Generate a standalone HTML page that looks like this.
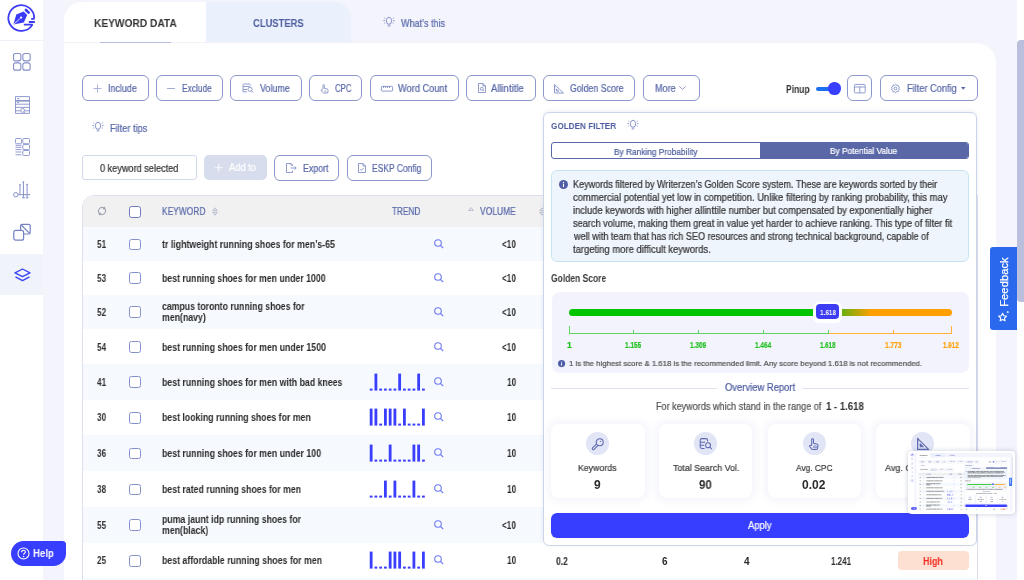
<!DOCTYPE html>
<html><head><meta charset="utf-8">
<style>
*{box-sizing:border-box;margin:0;padding:0}
html,body{width:1024px;height:580px;overflow:hidden;background:#f3f4fc;font-family:"Liberation Sans",sans-serif;color:#333}
.abs{position:absolute}
.tx{white-space:nowrap;line-height:12px;transform-origin:0 50%;will-change:transform}
.ic{position:absolute;overflow:visible}
.btn{position:absolute;height:25.5px;border:1px solid #8c98ca;border-radius:6px;background:#fff}
</style></head><body>
<div class="abs" style="left:0;top:0;width:43px;height:580px;background:#fff"></div>
<div class="abs" style="left:0;top:39.5px;width:43px;height:1px;background:#eef0f8"></div>
<div class="abs" style="left:0;top:254px;width:43px;height:41px;background:#f1f3fa"></div>
<svg class="ic" style="left:4px;top:2px" width="36" height="34" viewBox="0 0 36 34">
    <path d="M30.2 16.3 A12.9 12.9 0 1 0 28.4 22.6" fill="none" stroke="#3b3bf5" stroke-width="1.8"/>
    <path d="M27.2 16.8 H30.6 M24.8 20 H30.9 M19.8 22.7 H28.8" stroke="#3b3bf5" stroke-width="1.8"/>
    <path d="M9.4 22.6 L12.3 12.6 L19.6 9.4 L23.2 13.1 L19.8 20.4 Z" fill="#3b3bf5"/>
    <path d="M22.0 8.0 L24.6 10.6" stroke="#3b3bf5" stroke-width="2.7" stroke-linecap="round"/>
    <circle cx="17.1" cy="15.6" r="1.15" fill="#fff"/>
    <path d="M9.8 22.2 L16.4 16.3" stroke="#fff" stroke-width="0.8"/>
</svg>
<svg class="ic" style="left:13px;top:53px" width="18" height="18" viewBox="0 0 18 18" fill="none" stroke="#8590c8" stroke-width="1.1">
    <rect x="0.55" y="0.55" width="7.3" height="7.3" rx="2"/><rect x="9.85" y="0.55" width="7.3" height="7.3" rx="2"/>
    <rect x="0.55" y="9.85" width="7.3" height="7.3" rx="2"/><rect x="9.85" y="9.85" width="7.3" height="7.3" rx="2"/>
</svg>
<svg class="ic" style="left:14.5px;top:95.5px" width="16" height="18" viewBox="0 0 16 18" fill="none" stroke="#8590c8" stroke-width="0.9">
    <path d="M0.5 0.6 H14.5 V17.4 H0.5 Z"/>
    <path d="M0.5 4.8 H14.5" stroke-width="1.6"/><path d="M0.5 8.2 H14.5 M0.5 11.4 H14.5 M2 2.7 H4.5 M2 6.5 H4 M0.5 14.8 H5.5 M9.5 14.8 H14.5"/>
    <circle cx="7.6" cy="14.4" r="1.9"/><path d="M9 15.8 L10.2 17"/>
</svg>
<svg class="ic" style="left:14.5px;top:138px" width="15" height="18" viewBox="0 0 15 18" fill="none" stroke="#8590c8" stroke-width="0.9">
    <rect x="0.5" y="0.5" width="6" height="5.2" rx="1"/>
    <path d="M0.5 7.3 H6.5 M0.5 9.3 H6.5 M0.5 11.6 H6.5 M0.5 14 H6.5 M0.5 16.8 H6.5"/>
    <rect x="7.8" y="0.5" width="6.7" height="5.2" rx="1"/><rect x="7.8" y="6.6" width="6.7" height="5" rx="1"/><rect x="7.8" y="12.5" width="6.7" height="5" rx="1"/>
</svg>
<svg class="ic" style="left:13px;top:180px" width="18" height="19" viewBox="0 0 18 19" fill="none" stroke="#8590c8" stroke-width="1">
    <circle cx="2.8" cy="14.7" r="2.2"/><path d="M5 14.7 H17.3 M7 4 V14.7 M10.4 1.3 V17.8 M14.1 3.7 V17.8 M9 17.8 H11.8 M12.7 17.8 H15.5"/>
    <path d="M7 4.5 V5.6 M10.4 1.5 V2.6 M14.1 4 V5" stroke-width="1.5"/>
</svg>
<svg class="ic" style="left:13px;top:223px" width="18" height="18" viewBox="0 0 18 18" fill="none" stroke="#7481c2" stroke-width="1.2">
    <rect x="7.6" y="1.4" width="9.6" height="9.6" rx="1.6"/><path d="M8.2 2 L16.6 10.4"/><rect x="0.8" y="7.4" width="9.8" height="9.8" rx="2" fill="#fff"/>
</svg>
<svg class="ic" style="left:13.5px;top:268px" width="17" height="14" viewBox="0 0 17 14" fill="none" stroke="#3a44f0" stroke-width="1.4" stroke-linejoin="round">
    <path d="M8.5 1 L16 4.8 L8.5 8.6 L1 4.8 Z"/><path d="M1.5 8.8 L8.5 12.6 L15.5 8.8"/>
</svg>
<div class="abs" style="left:64px;top:43px;width:932px;height:600px;background:#fff;border-top-right-radius:20px"></div>
<div class="abs" style="left:64px;top:2px;width:142px;height:42px;background:#fff;border-top-left-radius:18px"></div>
<div class="abs" style="left:206px;top:2px;width:145px;height:41px;background:#eaf1fd;border-top-right-radius:16px"></div>
<div class="abs" style="left:64px;top:42px;width:287px;height:1px;background:#f0f2f9"></div>
<div class="abs" style="left:99.5px;top:42px;width:71px;height:1px;background:#b4bfe0"></div>
<div class="abs tx" style="left:93.60px;top:17.00px;font-size:11px;font-weight:bold;color:#333;transform:scaleX(0.9254);">KEYWORD DATA</div>
<div class="abs tx" style="left:253.30px;top:17.00px;font-size:11px;font-weight:bold;color:#4c5c9e;transform:scaleX(0.8534);">CLUSTERS</div>
<svg class="ic" style="left:382.5px;top:15.5px" width="12" height="11" viewBox="0 0 12 11" fill="none" stroke="#7683c2" stroke-width="0.9"><path d="M4.6 8.1 C3.9 7 3.4 6 3.4 4.6 C3.4 2.6 4.6 1.3 6 1.3 C7.4 1.3 8.6 2.6 8.6 4.6 C8.6 6 8.1 7 7.4 8.1 Z M4.7 9.9 H7.3" /><path d="M1.3 1.9 L2.3 2.5 M10.7 1.9 L9.7 2.5 M0.4 4.6 H1.9 M10.1 4.6 H11.6 M1.3 7.3 L2.3 6.7 M10.7 7.3 L9.7 6.7" stroke-width="0.8"/></svg>
<div class="abs tx" style="left:401.00px;top:18.00px;font-size:10px;font-weight:normal;color:#5868a8;transform:scaleX(0.9031);-webkit-text-stroke:0.22px #5868a8;">What’s this</div>
<div class="btn" style="left:81.9px;top:75.2px;width:66.79999999999998px;height:25.39999999999999px"></div>
<div class="btn" style="left:156.1px;top:75.2px;width:66.9px;height:25.39999999999999px"></div>
<div class="btn" style="left:230.2px;top:75.2px;width:71.40000000000003px;height:25.39999999999999px"></div>
<div class="btn" style="left:308.6px;top:75.2px;width:53.89999999999998px;height:25.39999999999999px"></div>
<div class="btn" style="left:370px;top:75.2px;width:88.60000000000002px;height:25.39999999999999px"></div>
<div class="btn" style="left:466.2px;top:75.2px;width:69.59999999999997px;height:25.39999999999999px"></div>
<div class="btn" style="left:543.1px;top:75.2px;width:92.39999999999998px;height:25.39999999999999px"></div>
<div class="btn" style="left:643.1px;top:75.2px;width:57.39999999999998px;height:25.39999999999999px"></div>
<div class="btn" style="left:847.4px;top:75.2px;width:25.0px;height:25.39999999999999px"></div>
<div class="btn" style="left:879.6px;top:75.2px;width:98.10000000000002px;height:25.39999999999999px"></div>
<svg class="ic" style="left:93px;top:84px" width="9" height="9" viewBox="0 0 9 9" stroke="#a3acd8" stroke-width="0.9"><path d="M4.5 0.5 V8.5 M0.5 4.5 H8.5"/></svg>
<div class="abs tx" style="left:107.80px;top:83.00px;font-size:10px;font-weight:normal;color:#5868a8;transform:scaleX(0.8934);-webkit-text-stroke:0.22px #5868a8;">Include</div>
<div class="abs" style="left:166.7px;top:87.9px;width:8px;height:1px;background:#a3acd8"></div>
<div class="abs tx" style="left:181.60px;top:83.00px;font-size:10px;font-weight:normal;color:#5868a8;transform:scaleX(0.8358);-webkit-text-stroke:0.22px #5868a8;">Exclude</div>
<svg class="ic" style="left:241.5px;top:83px" width="12" height="10" viewBox="0 0 12 10" fill="none" stroke="#7683c2" stroke-width="0.8"><path d="M1 3.5 H7.5 M1 6.5 H5 M2 1 H7 C8 1 8.3 1.6 8.3 2.6 M1 3.5 V8.8 H5 M1 3.5 C1 2 1.2 1 2 1"/><circle cx="8" cy="6.3" r="2.1"/><path d="M9.5 7.8 L11.3 9.5"/></svg>
<div class="abs tx" style="left:259.80px;top:83.00px;font-size:10px;font-weight:normal;color:#5868a8;transform:scaleX(0.8937);-webkit-text-stroke:0.22px #5868a8;">Volume</div>
<svg class="ic" style="left:320px;top:83.5px" width="9" height="9.5" viewBox="0 0 9 9.5" fill="none" stroke="#7683c2" stroke-width="0.8"><path d="M3 5 V1.2 C3 0.4 4.3 0.4 4.3 1.2 V4.3 L7 5 C8 5.3 8.3 5.8 8.1 6.8 L7.6 9 H3.5 L1 6.6 C0.5 6 1.4 5.2 2.3 5.8 L3 6.4"/><path d="M4.3 7.2 H6.2" /></svg>
<div class="abs tx" style="left:334.80px;top:83.00px;font-size:10px;font-weight:normal;color:#5868a8;transform:scaleX(0.7754);-webkit-text-stroke:0.22px #5868a8;">CPC</div>
<svg class="ic" style="left:381px;top:85.5px" width="12" height="5.5" viewBox="0 0 12 5.5" fill="none" stroke="#7683c2" stroke-width="0.8"><rect x="0.4" y="0.4" width="11.2" height="4.7" rx="0.8"/><path d="M2.5 0.4 V2 M4.5 0.4 V2 M6.5 0.4 V2 M8.5 0.4 V2"/></svg>
<div class="abs tx" style="left:398.40px;top:83.00px;font-size:10px;font-weight:normal;color:#5868a8;transform:scaleX(0.9233);-webkit-text-stroke:0.22px #5868a8;">Word Count</div>
<svg class="ic" style="left:477.5px;top:83px" width="8" height="10" viewBox="0 0 8 10" fill="none" stroke="#7683c2" stroke-width="0.8"><path d="M0.5 0.5 H5 L7.5 3 V9.5 H0.5 Z M5 0.5 V3 H7.5"/><circle cx="3.8" cy="5.8" r="1.5"/><path d="M4.8 6.8 L5.8 8"/></svg>
<div class="abs tx" style="left:491.00px;top:83.00px;font-size:10px;font-weight:normal;color:#5868a8;transform:scaleX(0.9457);-webkit-text-stroke:0.22px #5868a8;">Allintitle</div>
<svg class="ic" style="left:553.7px;top:83.5px" width="10" height="9.5" viewBox="0 0 10 9.5" fill="none" stroke="#7683c2" stroke-width="0.8"><path d="M0.5 0.5 V9 H9.5 Z M2.6 5 V7.2 H4.8 Z M0.5 3 H1.6 M0.5 5.5 H1.4"/></svg>
<div class="abs tx" style="left:570.20px;top:83.00px;font-size:10px;font-weight:normal;color:#5868a8;transform:scaleX(0.8768);-webkit-text-stroke:0.22px #5868a8;">Golden Score</div>
<div class="abs tx" style="left:654.70px;top:83.00px;font-size:10px;font-weight:normal;color:#5868a8;transform:scaleX(0.9043);-webkit-text-stroke:0.22px #5868a8;">More</div>
<svg class="ic" style="left:679px;top:86px" width="7" height="4" viewBox="0 0 7 4" fill="none" stroke="#7683c2" stroke-width="0.8"><path d="M0.4 0.5 L3.5 3.3 L6.6 0.5"/></svg>
<div class="abs tx" style="left:785.50px;top:84.00px;font-size:10px;font-weight:bold;color:#333;transform:scaleX(0.8458);">Pinup</div>
<div class="abs" style="left:816px;top:87.3px;width:16px;height:3.4px;background:#1b6ef0;border-radius:2px"></div>
<div class="abs" style="left:828.4px;top:82.3px;width:12.6px;height:12.6px;background:#383eff;border-radius:50%"></div>
<svg class="ic" style="left:853.8px;top:83.7px" width="11.6" height="9.3" viewBox="0 0 11.6 9.3" fill="none" stroke="#7683c2" stroke-width="0.8"><rect x="0.4" y="0.4" width="10.8" height="8.5" rx="1"/><path d="M0.4 3 H11.2 M5.8 3 V8.9"/></svg>
<svg class="ic" style="left:891px;top:84px" width="9" height="9" viewBox="0 0 9 9" fill="none" stroke="#7683c2" stroke-width="0.8"><circle cx="4.5" cy="4.5" r="1.4"/><path d="M4.5 0.4 L5.5 1.3 L6.9 1 L7.2 2.4 L8.4 3.2 L7.9 4.5 L8.4 5.8 L7.2 6.6 L6.9 8 L5.5 7.7 L4.5 8.6 L3.5 7.7 L2.1 8 L1.8 6.6 L0.6 5.8 L1.1 4.5 L0.6 3.2 L1.8 2.4 L2.1 1 L3.5 1.3 Z"/></svg>
<div class="abs tx" style="left:906.60px;top:83.00px;font-size:10px;font-weight:normal;color:#5868a8;transform:scaleX(0.9223);-webkit-text-stroke:0.22px #5868a8;">Filter Config</div>
<svg class="ic" style="left:961.2px;top:87.2px" width="4.5" height="3" viewBox="0 0 4.5 3"><path d="M0 0 H4.5 L2.25 2.8 Z" fill="#5868a8"/></svg>
<svg class="ic" style="left:92.0px;top:121.0px" width="12" height="11" viewBox="0 0 12 11" fill="none" stroke="#7683c2" stroke-width="0.9"><path d="M4.6 8.1 C3.9 7 3.4 6 3.4 4.6 C3.4 2.6 4.6 1.3 6 1.3 C7.4 1.3 8.6 2.6 8.6 4.6 C8.6 6 8.1 7 7.4 8.1 Z M4.7 9.9 H7.3" /><path d="M1.3 1.9 L2.3 2.5 M10.7 1.9 L9.7 2.5 M0.4 4.6 H1.9 M10.1 4.6 H11.6 M1.3 7.3 L2.3 6.7 M10.7 7.3 L9.7 6.7" stroke-width="0.8"/></svg>
<div class="abs tx" style="left:110.20px;top:123.00px;font-size:10px;font-weight:normal;color:#5868a8;transform:scaleX(0.9196);-webkit-text-stroke:0.22px #5868a8;">Filter tips</div>
<div class="abs" style="left:81.9px;top:155.3px;width:115px;height:25px;border:1px solid #d3d9ec;border-radius:3px;background:#fff"></div>
<div class="abs tx" style="left:100.30px;top:163.00px;font-size:10px;font-weight:normal;color:#333;transform:scaleX(0.9149);-webkit-text-stroke:0.22px #333;">0 keyword selected</div>
<div class="abs" style="left:204.3px;top:155.1px;width:62.9px;height:25.4px;background:#d7dded;border-radius:5px"></div>
<svg class="ic" style="left:215.2px;top:163.8px" width="7.5" height="7.5" viewBox="0 0 7.5 7.5" stroke="#fff" stroke-width="0.9"><path d="M3.75 0 V7.5 M0 3.75 H7.5"/></svg>
<div class="abs tx" style="left:229.00px;top:162.00px;font-size:10px;font-weight:normal;color:#fff;transform:scaleX(0.9336);-webkit-text-stroke:0.22px #fff;">Add to</div>
<div class="btn" style="left:274.2px;top:155px;width:65.19999999999999px;height:25.69999999999999px"></div>
<div class="btn" style="left:347.2px;top:155px;width:84.69999999999999px;height:25.69999999999999px"></div>
<svg class="ic" style="left:285.8px;top:163px" width="11" height="10" viewBox="0 0 11 10" fill="none" stroke="#7683c2" stroke-width="0.8"><path d="M6.5 3 V2 L5 0.5 H0.5 V9.5 H6.5 V7.5 M4.5 5 H10.2 M8.5 3.3 L10.2 5 L8.5 6.7 M5 0.5 V2 H6.5"/></svg>
<div class="abs tx" style="left:302.70px;top:163.00px;font-size:10px;font-weight:normal;color:#5868a8;transform:scaleX(0.8825);-webkit-text-stroke:0.22px #5868a8;">Export</div>
<svg class="ic" style="left:358px;top:162.8px" width="8" height="10" viewBox="0 0 8 10" fill="none" stroke="#7683c2" stroke-width="0.8"><path d="M0.5 0.5 H5 L7.5 3 V9.5 H0.5 Z M5 0.5 V3 H7.5 M2.2 6.2 L3.4 7.4 L5.6 5"/></svg>
<div class="abs tx" style="left:371.60px;top:163.00px;font-size:10px;font-weight:normal;color:#5868a8;transform:scaleX(0.8494);-webkit-text-stroke:0.22px #5868a8;">ESKP Config</div>
<div class="abs" style="left:82px;top:195px;width:895.5px;height:400px;border:1px solid #dde1ef;border-radius:12px 0 0 0;background:#fff"></div>
<div class="abs" style="left:83px;top:196px;width:893.5px;height:31px;background:#f1f1f2;border-radius:11px 0 0 0"></div>
<svg class="ic" style="left:97px;top:206.2px" width="10" height="10" viewBox="0 0 10 10" fill="none" stroke="#8d92a6" stroke-width="1"><path d="M8.12 3.2 A3.6 3.6 0 0 1 3.2 8.12"/><path d="M1.88 6.8 A3.6 3.6 0 0 1 6.8 1.88"/><path d="M8.3 2.7 L7.5 0.7 L6.1 3.0 Z M1.7 7.3 L2.5 9.3 L3.9 7.0 Z" fill="#8d92a6" stroke-width="0.4"/></svg>
<div class="abs" style="left:129.2px;top:206px;width:11.8px;height:11.8px;border:1px solid #6f7cbf;border-radius:2.5px;background:#fff"></div>
<div class="abs tx" style="left:162.00px;top:206.00px;font-size:10px;font-weight:normal;color:#5868a8;transform:scaleX(0.8397);-webkit-text-stroke:0.22px #5868a8;">KEYWORD</div>
<svg class="ic" style="left:212.2px;top:207px" width="6" height="9" viewBox="0 0 6 9" fill="none" stroke="#aab0c4" stroke-width="0.8"><path d="M0.8 3.6 L3 0.8 L5.2 3.6 Z M0.8 5.4 L3 8.2 L5.2 5.4 Z"/></svg>
<div class="abs tx" style="left:391.80px;top:206.00px;font-size:10px;font-weight:normal;color:#5868a8;transform:scaleX(0.8240);-webkit-text-stroke:0.22px #5868a8;">TREND</div>
<svg class="ic" style="left:468px;top:206.8px" width="6" height="4" viewBox="0 0 6 4" fill="none" stroke="#aab0c4" stroke-width="0.8"><path d="M0.6 3.4 L3 0.6 L5.4 3.4 Z"/></svg>
<div class="abs tx" style="left:480.00px;top:206.00px;font-size:10px;font-weight:normal;color:#5868a8;transform:scaleX(0.8458);-webkit-text-stroke:0.22px #5868a8;">VOLUME</div>
<svg class="ic" style="left:538.5px;top:207px" width="6" height="9" viewBox="0 0 6 9" fill="none" stroke="#aab0c4" stroke-width="0.8"><path d="M0.8 3.6 L3 0.8 L5.2 3.6 Z M0.8 5.4 L3 8.2 L5.2 5.4 Z"/></svg>
<div class="abs" style="left:83px;top:227px;width:893.5px;height:34px;background:#f6f9fd"></div>
<div class="abs tx" style="left:97.20px;top:239.00px;font-size:10px;font-weight:bold;color:#333;transform:scaleX(0.8303);">51</div>
<div class="abs" style="left:129.2px;top:238.6px;width:11.8px;height:11.8px;border:1px solid #8591cc;border-radius:2.5px;background:#fff"></div>
<div class="abs tx" style="left:162.40px;top:239.00px;font-size:10px;font-weight:bold;color:#2b2b2b;transform:scaleX(0.8808);">tr lightweight running shoes for men’s-65</div>
<svg class="ic" style="left:433.5px;top:239.0px" width="10" height="9.5" viewBox="0 0 10 9.5" fill="none" stroke="#6e7af4" stroke-width="1.1"><circle cx="4" cy="4" r="3.3"/><path d="M6.4 6.4 L9.2 9"/></svg>
<div class="abs tx" style="left:502.00px;top:239.00px;font-size:10px;font-weight:bold;color:#2b2b2b;transform:scaleX(0.8160);">&lt;10</div>
<div class="abs tx" style="left:97.20px;top:273.00px;font-size:10px;font-weight:bold;color:#333;transform:scaleX(0.8303);">53</div>
<div class="abs" style="left:129.2px;top:272.35px;width:11.8px;height:11.8px;border:1px solid #8591cc;border-radius:2.5px;background:#fff"></div>
<div class="abs tx" style="left:162.40px;top:273.00px;font-size:10px;font-weight:bold;color:#2b2b2b;transform:scaleX(0.8732);">best running shoes for men under 1000</div>
<svg class="ic" style="left:433.5px;top:272.75px" width="10" height="9.5" viewBox="0 0 10 9.5" fill="none" stroke="#6e7af4" stroke-width="1.1"><circle cx="4" cy="4" r="3.3"/><path d="M6.4 6.4 L9.2 9"/></svg>
<div class="abs tx" style="left:502.00px;top:273.00px;font-size:10px;font-weight:bold;color:#2b2b2b;transform:scaleX(0.8160);">&lt;10</div>
<div class="abs" style="left:83px;top:294.5px;width:893.5px;height:34.5px;background:#f6f9fd"></div>
<div class="abs tx" style="left:97.20px;top:307.00px;font-size:10px;font-weight:bold;color:#333;transform:scaleX(0.8303);">52</div>
<div class="abs" style="left:129.2px;top:306.35px;width:11.8px;height:11.8px;border:1px solid #8591cc;border-radius:2.5px;background:#fff"></div>
<div class="abs tx" style="left:162.40px;top:301.00px;font-size:10px;font-weight:bold;color:#2b2b2b;transform:scaleX(0.8725);">campus toronto running shoes for</div>
<div class="abs tx" style="left:162.40px;top:312.00px;font-size:10px;font-weight:bold;color:#2b2b2b;transform:scaleX(0.8750);">men(navy)</div>
<svg class="ic" style="left:433.5px;top:306.75px" width="10" height="9.5" viewBox="0 0 10 9.5" fill="none" stroke="#6e7af4" stroke-width="1.1"><circle cx="4" cy="4" r="3.3"/><path d="M6.4 6.4 L9.2 9"/></svg>
<div class="abs tx" style="left:502.00px;top:307.00px;font-size:10px;font-weight:bold;color:#2b2b2b;transform:scaleX(0.8160);">&lt;10</div>
<div class="abs tx" style="left:97.20px;top:342.00px;font-size:10px;font-weight:bold;color:#333;transform:scaleX(0.8303);">54</div>
<div class="abs" style="left:129.2px;top:341.1px;width:11.8px;height:11.8px;border:1px solid #8591cc;border-radius:2.5px;background:#fff"></div>
<div class="abs tx" style="left:162.40px;top:342.00px;font-size:10px;font-weight:bold;color:#2b2b2b;transform:scaleX(0.8750);">best running shoes for men under 1500</div>
<svg class="ic" style="left:433.5px;top:341.5px" width="10" height="9.5" viewBox="0 0 10 9.5" fill="none" stroke="#6e7af4" stroke-width="1.1"><circle cx="4" cy="4" r="3.3"/><path d="M6.4 6.4 L9.2 9"/></svg>
<div class="abs tx" style="left:502.00px;top:342.00px;font-size:10px;font-weight:bold;color:#2b2b2b;transform:scaleX(0.8160);">&lt;10</div>
<div class="abs" style="left:83px;top:364px;width:893.5px;height:35.5px;background:#f6f9fd"></div>
<div class="abs tx" style="left:97.20px;top:377.00px;font-size:10px;font-weight:bold;color:#333;transform:scaleX(0.8303);">41</div>
<div class="abs" style="left:129.2px;top:376.35px;width:11.8px;height:11.8px;border:1px solid #8591cc;border-radius:2.5px;background:#fff"></div>
<div class="abs tx" style="left:162.40px;top:377.00px;font-size:10px;font-weight:bold;color:#2b2b2b;transform:scaleX(0.8750);">best running shoes for men with bad knees</div>
<svg class="ic" style="left:368px;top:369.75px" width="60" height="24" viewBox="0 0 60 24" fill="#3a3eff"><rect x="1.75" y="18.60" width="2.8" height="2.0"/><rect x="6.50" y="3.60" width="2.8" height="17"/><rect x="11.25" y="18.60" width="2.8" height="2.0"/><rect x="16.00" y="18.60" width="2.8" height="2.0"/><rect x="20.75" y="18.60" width="2.8" height="2.0"/><rect x="25.50" y="18.60" width="2.8" height="2.0"/><rect x="30.25" y="3.60" width="2.8" height="17"/><rect x="35.00" y="18.60" width="2.8" height="2.0"/><rect x="39.75" y="18.60" width="2.8" height="2.0"/><rect x="44.50" y="18.60" width="2.8" height="2.0"/><rect x="49.25" y="3.60" width="2.8" height="17"/><rect x="54.00" y="18.60" width="2.8" height="2.0"/></svg>
<svg class="ic" style="left:433.5px;top:376.75px" width="10" height="9.5" viewBox="0 0 10 9.5" fill="none" stroke="#6e7af4" stroke-width="1.1"><circle cx="4" cy="4" r="3.3"/><path d="M6.4 6.4 L9.2 9"/></svg>
<div class="abs tx" style="left:506.60px;top:377.00px;font-size:10px;font-weight:bold;color:#2b2b2b;transform:scaleX(0.8303);">10</div>
<div class="abs tx" style="left:97.20px;top:412.00px;font-size:10px;font-weight:bold;color:#333;transform:scaleX(0.8303);">30</div>
<div class="abs" style="left:129.2px;top:411.85px;width:11.8px;height:11.8px;border:1px solid #8591cc;border-radius:2.5px;background:#fff"></div>
<div class="abs tx" style="left:162.40px;top:412.00px;font-size:10px;font-weight:bold;color:#2b2b2b;transform:scaleX(0.8750);">best looking running shoes for men</div>
<svg class="ic" style="left:368px;top:405.25px" width="60" height="24" viewBox="0 0 60 24" fill="#3a3eff"><rect x="1.75" y="3.60" width="2.8" height="17"/><rect x="6.50" y="3.60" width="2.8" height="17"/><rect x="11.25" y="18.60" width="2.8" height="2.0"/><rect x="16.00" y="3.60" width="2.8" height="17"/><rect x="20.75" y="3.60" width="2.8" height="17"/><rect x="25.50" y="3.60" width="2.8" height="17"/><rect x="30.25" y="18.60" width="2.8" height="2.0"/><rect x="35.00" y="3.60" width="2.8" height="17"/><rect x="39.75" y="18.60" width="2.8" height="2.0"/><rect x="44.50" y="18.60" width="2.8" height="2.0"/><rect x="49.25" y="18.60" width="2.8" height="2.0"/><rect x="54.00" y="3.60" width="2.8" height="17"/></svg>
<svg class="ic" style="left:433.5px;top:412.25px" width="10" height="9.5" viewBox="0 0 10 9.5" fill="none" stroke="#6e7af4" stroke-width="1.1"><circle cx="4" cy="4" r="3.3"/><path d="M6.4 6.4 L9.2 9"/></svg>
<div class="abs tx" style="left:506.60px;top:412.00px;font-size:10px;font-weight:bold;color:#2b2b2b;transform:scaleX(0.8303);">10</div>
<div class="abs" style="left:83px;top:435px;width:893.5px;height:36px;background:#f6f9fd"></div>
<div class="abs tx" style="left:97.20px;top:448.00px;font-size:10px;font-weight:bold;color:#333;transform:scaleX(0.8303);">36</div>
<div class="abs" style="left:129.2px;top:447.6px;width:11.8px;height:11.8px;border:1px solid #8591cc;border-radius:2.5px;background:#fff"></div>
<div class="abs tx" style="left:162.40px;top:448.00px;font-size:10px;font-weight:bold;color:#2b2b2b;transform:scaleX(0.8750);">best running shoes for men under 100</div>
<svg class="ic" style="left:368px;top:441.0px" width="60" height="24" viewBox="0 0 60 24" fill="#3a3eff"><rect x="1.75" y="3.60" width="2.8" height="17"/><rect x="6.50" y="18.60" width="2.8" height="2.0"/><rect x="11.25" y="18.60" width="2.8" height="2.0"/><rect x="16.00" y="18.60" width="2.8" height="2.0"/><rect x="20.75" y="3.60" width="2.8" height="17"/><rect x="25.50" y="18.60" width="2.8" height="2.0"/><rect x="30.25" y="18.60" width="2.8" height="2.0"/><rect x="35.00" y="18.60" width="2.8" height="2.0"/><rect x="39.75" y="18.60" width="2.8" height="2.0"/><rect x="44.50" y="3.60" width="2.8" height="17"/><rect x="49.25" y="3.60" width="2.8" height="17"/><rect x="54.00" y="18.60" width="2.8" height="2.0"/></svg>
<svg class="ic" style="left:433.5px;top:448.0px" width="10" height="9.5" viewBox="0 0 10 9.5" fill="none" stroke="#6e7af4" stroke-width="1.1"><circle cx="4" cy="4" r="3.3"/><path d="M6.4 6.4 L9.2 9"/></svg>
<div class="abs tx" style="left:506.60px;top:448.00px;font-size:10px;font-weight:bold;color:#2b2b2b;transform:scaleX(0.8303);">10</div>
<div class="abs tx" style="left:97.20px;top:484.00px;font-size:10px;font-weight:bold;color:#333;transform:scaleX(0.8303);">38</div>
<div class="abs" style="left:129.2px;top:483.6px;width:11.8px;height:11.8px;border:1px solid #8591cc;border-radius:2.5px;background:#fff"></div>
<div class="abs tx" style="left:162.40px;top:484.00px;font-size:10px;font-weight:bold;color:#2b2b2b;transform:scaleX(0.8750);">best rated running shoes for men</div>
<svg class="ic" style="left:368px;top:477.0px" width="60" height="24" viewBox="0 0 60 24" fill="#3a3eff"><rect x="1.75" y="18.60" width="2.8" height="2.0"/><rect x="6.50" y="18.60" width="2.8" height="2.0"/><rect x="11.25" y="18.60" width="2.8" height="2.0"/><rect x="16.00" y="3.60" width="2.8" height="17"/><rect x="20.75" y="18.60" width="2.8" height="2.0"/><rect x="25.50" y="3.60" width="2.8" height="17"/><rect x="30.25" y="18.60" width="2.8" height="2.0"/><rect x="35.00" y="18.60" width="2.8" height="2.0"/><rect x="39.75" y="18.60" width="2.8" height="2.0"/><rect x="44.50" y="3.60" width="2.8" height="17"/><rect x="49.25" y="18.60" width="2.8" height="2.0"/><rect x="54.00" y="18.60" width="2.8" height="2.0"/></svg>
<svg class="ic" style="left:433.5px;top:484.0px" width="10" height="9.5" viewBox="0 0 10 9.5" fill="none" stroke="#6e7af4" stroke-width="1.1"><circle cx="4" cy="4" r="3.3"/><path d="M6.4 6.4 L9.2 9"/></svg>
<div class="abs tx" style="left:506.60px;top:484.00px;font-size:10px;font-weight:bold;color:#2b2b2b;transform:scaleX(0.8303);">10</div>
<div class="abs" style="left:83px;top:507px;width:893.5px;height:35.5px;background:#f6f9fd"></div>
<div class="abs tx" style="left:97.20px;top:520.00px;font-size:10px;font-weight:bold;color:#333;transform:scaleX(0.8303);">55</div>
<div class="abs" style="left:129.2px;top:519.35px;width:11.8px;height:11.8px;border:1px solid #8591cc;border-radius:2.5px;background:#fff"></div>
<div class="abs tx" style="left:162.40px;top:514.00px;font-size:10px;font-weight:bold;color:#2b2b2b;transform:scaleX(0.8750);">puma jaunt idp running shoes for</div>
<div class="abs tx" style="left:162.40px;top:525.00px;font-size:10px;font-weight:bold;color:#2b2b2b;transform:scaleX(0.8750);">men(black)</div>
<svg class="ic" style="left:433.5px;top:519.75px" width="10" height="9.5" viewBox="0 0 10 9.5" fill="none" stroke="#6e7af4" stroke-width="1.1"><circle cx="4" cy="4" r="3.3"/><path d="M6.4 6.4 L9.2 9"/></svg>
<div class="abs tx" style="left:502.00px;top:520.00px;font-size:10px;font-weight:bold;color:#2b2b2b;transform:scaleX(0.8160);">&lt;10</div>
<div class="abs tx" style="left:97.20px;top:555.00px;font-size:10px;font-weight:bold;color:#333;transform:scaleX(0.8303);">25</div>
<div class="abs" style="left:129.2px;top:554.85px;width:11.8px;height:11.8px;border:1px solid #8591cc;border-radius:2.5px;background:#fff"></div>
<div class="abs tx" style="left:162.40px;top:555.00px;font-size:10px;font-weight:bold;color:#2b2b2b;transform:scaleX(0.8750);">best affordable running shoes for men</div>
<svg class="ic" style="left:368px;top:548.25px" width="60" height="24" viewBox="0 0 60 24" fill="#3a3eff"><rect x="1.75" y="3.60" width="2.8" height="17"/><rect x="6.50" y="18.60" width="2.8" height="2.0"/><rect x="11.25" y="18.60" width="2.8" height="2.0"/><rect x="16.00" y="18.60" width="2.8" height="2.0"/><rect x="20.75" y="3.60" width="2.8" height="17"/><rect x="25.50" y="3.60" width="2.8" height="17"/><rect x="30.25" y="3.60" width="2.8" height="17"/><rect x="35.00" y="18.60" width="2.8" height="2.0"/><rect x="39.75" y="18.60" width="2.8" height="2.0"/><rect x="44.50" y="3.60" width="2.8" height="17"/><rect x="49.25" y="18.60" width="2.8" height="2.0"/><rect x="54.00" y="3.60" width="2.8" height="17"/></svg>
<svg class="ic" style="left:433.5px;top:555.25px" width="10" height="9.5" viewBox="0 0 10 9.5" fill="none" stroke="#6e7af4" stroke-width="1.1"><circle cx="4" cy="4" r="3.3"/><path d="M6.4 6.4 L9.2 9"/></svg>
<div class="abs tx" style="left:506.60px;top:555.00px;font-size:10px;font-weight:bold;color:#2b2b2b;transform:scaleX(0.8303);">10</div>
<div class="abs" style="left:83px;top:578px;width:893.5px;height:42px;background:#f6f9fd"></div>
<div class="abs tx" style="left:556.10px;top:556.00px;font-size:10px;font-weight:bold;color:#2b2b2b;transform:scaleX(0.8577);">0.2</div>
<div class="abs tx" style="left:661.60px;top:556.00px;font-size:10px;font-weight:bold;color:#2b2b2b;transform:scaleX(1.0000);">6</div>
<div class="abs tx" style="left:744.00px;top:556.00px;font-size:10px;font-weight:bold;color:#2b2b2b;transform:scaleX(1.0000);">4</div>
<div class="abs tx" style="left:830.90px;top:556.00px;font-size:10px;font-weight:bold;color:#2b2b2b;transform:scaleX(0.8012);">1.241</div>
<div class="abs" style="left:897.5px;top:551.2px;width:71.3px;height:18.4px;background:#fde0d2;border-radius:4px"></div>
<div class="abs tx" style="left:922.80px;top:556.00px;font-size:10px;font-weight:bold;color:#f52a1f;transform:scaleX(0.8956);">High</div>
<div class="abs" style="left:543px;top:111.5px;width:434px;height:434px;background:#fff;border:1px solid #ccd4ea;border-radius:6px;box-shadow:0 -1px 4px rgba(90,100,160,0.10)"></div>
<div class="abs tx" style="left:551.25px;top:120.00px;font-size:9.5px;font-weight:bold;color:#4c5c9e;transform:scaleX(0.8597);">GOLDEN FILTER</div>
<svg class="ic" style="left:627.0px;top:119.0px" width="12" height="11" viewBox="0 0 12 11" fill="none" stroke="#7683c2" stroke-width="0.9"><path d="M4.6 8.1 C3.9 7 3.4 6 3.4 4.6 C3.4 2.6 4.6 1.3 6 1.3 C7.4 1.3 8.6 2.6 8.6 4.6 C8.6 6 8.1 7 7.4 8.1 Z M4.7 9.9 H7.3" /><path d="M1.3 1.9 L2.3 2.5 M10.7 1.9 L9.7 2.5 M0.4 4.6 H1.9 M10.1 4.6 H11.6 M1.3 7.3 L2.3 6.7 M10.7 7.3 L9.7 6.7" stroke-width="0.8"/></svg>
<div class="abs" style="left:551.2px;top:142.1px;width:417.7px;height:16.8px;border:1px solid #5a68a8;border-radius:3px;background:#fff;overflow:hidden"><div class="abs" style="left:208px;top:-1px;width:212px;height:17px;background:#5a68a8"></div></div>
<div class="abs tx" style="left:613.75px;top:146.00px;font-size:9px;font-weight:normal;color:#4c5c9e;transform:scaleX(0.9226);-webkit-text-stroke:0.22px #4c5c9e;">By Ranking Probability</div>
<div class="abs tx" style="left:830.30px;top:145.00px;font-size:9px;font-weight:normal;color:#fff;transform:scaleX(0.9221);-webkit-text-stroke:0.22px #fff;">By Potential Value</div>
<div class="abs" style="left:551.1px;top:170.1px;width:417.6px;height:92.4px;background:#eff5fd;border:1px solid #c8e4f4;border-radius:6px"></div>
<svg class="ic" style="left:558.9px;top:180.0px" width="9.0" height="9.0" viewBox="0 0 9 9"><circle cx="4.5" cy="4.5" r="4.5" fill="#4f5ea6"/><rect x="3.95" y="3.7" width="1.1" height="3.4" fill="#fff"/><circle cx="4.5" cy="2.45" r="0.68" fill="#fff"/></svg>
<div class="abs tx" style="left:573.00px;top:179.00px;font-size:10px;font-weight:normal;color:#333;transform:scaleX(0.9052);-webkit-text-stroke:0.22px #333;">Keywords filtered by Writerzen’s Golden Score system. These are keywords sorted by their</div>
<div class="abs tx" style="left:573.00px;top:192.00px;font-size:10px;font-weight:normal;color:#333;transform:scaleX(0.9415);-webkit-text-stroke:0.22px #333;">commercial potential yet low in competition. Unlike filtering by ranking probability, this may</div>
<div class="abs tx" style="left:573.00px;top:205.00px;font-size:10px;font-weight:normal;color:#333;transform:scaleX(0.9329);-webkit-text-stroke:0.22px #333;">include keywords with higher allinttile number but compensated by exponentially higher</div>
<div class="abs tx" style="left:573.00px;top:218.00px;font-size:10px;font-weight:normal;color:#333;transform:scaleX(0.9207);-webkit-text-stroke:0.22px #333;">search volume, making them great in value yet harder to achieve ranking. This type of filter fit</div>
<div class="abs tx" style="left:573.91px;top:231.00px;font-size:10px;font-weight:normal;color:#333;transform:scaleX(0.9103);-webkit-text-stroke:0.22px #333;">well with team that has rich SEO resources and strong technical background, capable of</div>
<div class="abs tx" style="left:573.00px;top:244.00px;font-size:10px;font-weight:normal;color:#333;transform:scaleX(0.9434);-webkit-text-stroke:0.22px #333;">targeting more difficult keywords.</div>
<div class="abs tx" style="left:551.25px;top:273.00px;font-size:10px;font-weight:bold;color:#3a3a3a;transform:scaleX(0.8479);">Golden Score</div>
<div class="abs" style="left:551.5px;top:291.5px;width:417px;height:81.5px;background:#f2f3fc;border-radius:8px"></div>
<div class="abs" style="left:568.7px;top:308.5px;width:383px;height:7px;border-radius:3.5px;background:linear-gradient(to right,#00c400 0%,#00c400 70%,#6cae10 71.5%,#ffa000 79%,#ffa000 100%)"></div>
<div class="abs" style="left:813px;top:302px;width:29.2px;height:20.5px;background:#fff;border-radius:6px"></div>
<div class="abs" style="left:816.2px;top:304px;width:23.2px;height:15.3px;background:#3c3cf5;border-radius:4px"></div>
<div class="abs tx" style="left:819.55px;top:307.00px;font-size:8px;font-weight:bold;color:#fff;transform:scaleX(0.8021);">1.618</div>
<div class="abs" style="left:568.7px;top:332.7px;width:260px;height:1px;background:#5fd45f"></div>
<div class="abs" style="left:828.6px;top:332.7px;width:123px;height:1px;background:#ffb23a"></div>
<div class="abs" style="left:568.5px;top:326px;width:1px;height:7px;background:#5fd45f"></div>
<div class="abs tx" style="left:566.50px;top:339.00px;font-size:8.5px;font-weight:bold;color:#22c022;transform:scaleX(1.0000);-webkit-text-stroke:0.2px #22c022;">1</div>
<div class="abs" style="left:633.0px;top:329.5px;width:1px;height:3.5px;background:#5fd45f"></div>
<div class="abs tx" style="left:625.25px;top:339.00px;font-size:8.5px;font-weight:bold;color:#22c022;transform:scaleX(0.7659);-webkit-text-stroke:0.2px #22c022;">1.155</div>
<div class="abs" style="left:697.8px;top:329.5px;width:1px;height:3.5px;background:#5fd45f"></div>
<div class="abs tx" style="left:690.05px;top:339.00px;font-size:8.5px;font-weight:bold;color:#22c022;transform:scaleX(0.7659);-webkit-text-stroke:0.2px #22c022;">1.309</div>
<div class="abs" style="left:762.5px;top:329.5px;width:1px;height:3.5px;background:#5fd45f"></div>
<div class="abs tx" style="left:754.75px;top:339.00px;font-size:8.5px;font-weight:bold;color:#22c022;transform:scaleX(0.7659);-webkit-text-stroke:0.2px #22c022;">1.464</div>
<div class="abs" style="left:827.8px;top:329.5px;width:1px;height:3.5px;background:#5fd45f"></div>
<div class="abs tx" style="left:820.40px;top:339.00px;font-size:8.5px;font-weight:bold;color:#22c022;transform:scaleX(0.7334);-webkit-text-stroke:0.2px #22c022;">1.618</div>
<div class="abs" style="left:892.5px;top:329.5px;width:1px;height:3.5px;background:#ffb23a"></div>
<div class="abs tx" style="left:884.65px;top:339.00px;font-size:8.5px;font-weight:bold;color:#ffa000;transform:scaleX(0.7752);-webkit-text-stroke:0.2px #ffa000;">1.773</div>
<div class="abs" style="left:950.7px;top:326px;width:1px;height:7px;background:#ffb23a"></div>
<div class="abs tx" style="left:943.20px;top:339.00px;font-size:8.5px;font-weight:bold;color:#ffa000;transform:scaleX(0.7427);-webkit-text-stroke:0.2px #ffa000;">1.912</div>
<svg class="ic" style="left:558.1px;top:359.59999999999997px" width="7.2" height="7.2" viewBox="0 0 9 9"><circle cx="4.5" cy="4.5" r="4.5" fill="#4f5ea6"/><rect x="3.95" y="3.7" width="1.1" height="3.4" fill="#fff"/><circle cx="4.5" cy="2.45" r="0.68" fill="#fff"/></svg>
<div class="abs tx" style="left:568.70px;top:358.00px;font-size:8px;font-weight:normal;color:#555;transform:scaleX(0.9707);-webkit-text-stroke:0.22px #555;">1 is the highest score &amp; 1.618 is the recommended limit. Any score beyond 1.618 is not recommended.</div>
<div class="abs" style="left:551px;top:388.4px;width:166.3px;height:1px;background:#dde2ee"></div>
<div class="abs" style="left:801.7px;top:388.4px;width:167px;height:1px;background:#dde2ee"></div>
<div class="abs tx" style="left:724.80px;top:382.00px;font-size:10px;font-weight:normal;color:#4c5ca0;transform:scaleX(0.9412);-webkit-text-stroke:0.22px #4c5ca0;">Overview Report</div>
<div class="abs tx" style="left:656.00px;top:401.00px;font-size:10px;font-weight:normal;color:#555;transform:scaleX(0.9067);-webkit-text-stroke:0.22px #555;">For keywords which stand in the range of</div>
<div class="abs tx" style="left:826.30px;top:401.00px;font-size:10px;font-weight:bold;color:#333;transform:scaleX(0.9571);">1 - 1.618</div>
<div class="abs" style="left:551px;top:424px;width:93.5px;height:74.4px;background:#fff;border-radius:8px;box-shadow:0 0 7px 4px rgba(120,130,210,0.07)"></div>
<div class="abs" style="left:586.3000000000001px;top:432px;width:22.8px;height:22.8px;border-radius:50%;background:#e1e5f6"></div>
<svg class="ic" style="left:590.7px;top:436.5px" width="14" height="14" viewBox="0 0 14 14"><path d="M6.4 7.6 L2.3 11.7" stroke="#5d6aae" stroke-width="3.1" stroke-linecap="round"/><path d="M6.6 7.4 L2.3 11.7" stroke="#e1e5f6" stroke-width="1.1" stroke-linecap="round"/><circle cx="8.7" cy="5.3" r="3.5" fill="#e1e5f6" stroke="#5d6aae" stroke-width="1.05"/><circle cx="9.6" cy="4.3" r="0.65" fill="#5d6aae"/></svg>
<div class="abs tx" style="left:578.35px;top:462.00px;font-size:9.5px;font-weight:normal;color:#3a3a3a;transform:scaleX(0.9223);-webkit-text-stroke:0.22px #3a3a3a;">Keywords</div>
<div class="abs tx" style="left:594.40px;top:479.00px;font-size:12px;font-weight:bold;color:#2b2b2b;transform:scaleX(0.9429);">9</div>
<div class="abs" style="left:658.9px;top:424px;width:93.5px;height:74.4px;background:#fff;border-radius:8px;box-shadow:0 0 7px 4px rgba(120,130,210,0.07)"></div>
<div class="abs" style="left:694.2px;top:432px;width:22.8px;height:22.8px;border-radius:50%;background:#e1e5f6"></div>
<svg class="ic" style="left:698.6px;top:436.5px" width="14" height="14" viewBox="0 0 14 14"><g fill="none" stroke="#5d6aae" stroke-width="1.05"><path d="M8.6 4.6 V3.2 C8.6 2.2 7.9 1.6 6.9 1.6 H2.8 C1.8 1.6 1.2 2.2 1.2 3.2 V9.8 C1.2 10.8 1.8 11.4 2.8 11.4 H5.6 M1.2 5.2 H6.2 M1.2 8.2 H5.2"/><circle cx="9" cy="8.3" r="2.5"/><path d="M10.8 10.1 L12.8 12.1"/></g></svg>
<div class="abs tx" style="left:672.70px;top:462.00px;font-size:9.5px;font-weight:normal;color:#3a3a3a;transform:scaleX(0.9313);-webkit-text-stroke:0.22px #3a3a3a;">Total Search Vol.</div>
<div class="abs tx" style="left:699.10px;top:479.00px;font-size:12px;font-weight:bold;color:#2b2b2b;transform:scaleX(0.9507);">90</div>
<div class="abs" style="left:767.5px;top:424px;width:93.5px;height:74.4px;background:#fff;border-radius:8px;box-shadow:0 0 7px 4px rgba(120,130,210,0.07)"></div>
<div class="abs" style="left:802.8000000000001px;top:432px;width:22.8px;height:22.8px;border-radius:50%;background:#e1e5f6"></div>
<svg class="ic" style="left:807.2px;top:436.5px" width="14" height="14" viewBox="0 0 14 14"><g fill="none" stroke="#5d6aae" stroke-width="1.05" stroke-linejoin="round"><path d="M4.7 8.2 V2.6 C4.7 1.4 6.5 1.4 6.5 2.6 V6.2 L9.7 7 C10.9 7.3 11.2 8.1 11 9 L10.4 11.6 C10.3 12.1 9.9 12.5 9.3 12.5 H5.9 C5.4 12.5 5 12.3 4.7 11.9 L2.7 9.5 C2.1 8.7 3.2 7.6 4.7 8.6"/></g><rect x="6.6" y="9" width="2.8" height="1.8" rx="0.4" fill="none" stroke="#5d6aae" stroke-width="0.7"/></svg>
<div class="abs tx" style="left:795.90px;top:462.00px;font-size:9.5px;font-weight:normal;color:#3a3a3a;transform:scaleX(0.8782);-webkit-text-stroke:0.22px #3a3a3a;">Avg. CPC</div>
<div class="abs tx" style="left:802.40px;top:479.00px;font-size:12px;font-weight:bold;color:#2b2b2b;transform:scaleX(0.9966);">0.02</div>
<div class="abs" style="left:876px;top:424px;width:93.5px;height:74.4px;background:#fff;border-radius:8px;box-shadow:0 0 7px 4px rgba(120,130,210,0.07)"></div>
<div class="abs" style="left:911.3000000000001px;top:432px;width:22.8px;height:22.8px;border-radius:50%;background:#e1e5f6"></div>
<svg class="ic" style="left:915.7px;top:436.5px" width="14" height="14" viewBox="0 0 14 14"><g fill="none" stroke="#5d6aae" stroke-width="1.1" stroke-linejoin="round"><path d="M1.6 1.4 V12.4 H12.6 Z M4.2 6.8 V9.8 H7.2 Z"/><path d="M1.6 4.2 H3 M1.6 7 H2.6" stroke-width="0.8"/></g></svg>
<div class="abs tx" style="left:885.20px;top:462.00px;font-size:9.5px;font-weight:normal;color:#3a3a3a;transform:scaleX(0.9460);-webkit-text-stroke:0.22px #3a3a3a;">Avg. Golden Score</div>
<div class="abs tx" style="left:913.70px;top:479.00px;font-size:12px;font-weight:bold;color:#2b2b2b;transform:scaleX(1.0583);">1.4</div>
<div class="abs" style="left:551px;top:512.5px;width:418px;height:25.3px;background:#383eff;border-radius:6px"></div>
<div class="abs tx" style="left:748.25px;top:520.00px;font-size:10px;font-weight:normal;color:#fff;transform:scaleX(0.9394);-webkit-text-stroke:0.22px #fff;">Apply</div>
<div class="abs" style="left:1017px;top:0;width:7px;height:580px;background:#fff"></div>
<div class="abs" style="left:1017px;top:40px;width:7px;height:262px;background:#b9bfdc;border-radius:4px 0 0 4px"></div>
<div class="abs" style="left:990px;top:246.7px;width:27px;height:83.5px;background:#2a68ee;border-radius:3px 0 0 3px"></div>
<div class="abs" style="left:963.5px;top:276px;width:80px;height:12px;transform:rotate(-90deg);transform-origin:40px 6px;text-align:center;color:#fff;font-size:11px;font-weight:normal;line-height:12px;white-space:nowrap;letter-spacing:0.15px;-webkit-text-stroke:0.25px #fff;will-change:transform">Feedback</div>
<svg class="ic" style="left:997px;top:309.5px" width="13" height="13" viewBox="0 0 13 13" fill="none" stroke="#fff" stroke-width="1.1" stroke-linejoin="round"><path d="M5.6 3.2 L6.8 5.8 L9.6 6.1 L7.5 8 L8.1 10.8 L5.6 9.4 L3.1 10.8 L3.7 8 L1.6 6.1 L4.4 5.8 Z"/><path d="M10.8 1 V3.2 M9.7 2.1 H11.9" stroke-width="0.8"/></svg>
<div class="abs" style="left:10.5px;top:541px;width:55.6px;height:24.5px;background:#383eff;border-radius:12.5px 3.5px 12.5px 12.5px"></div>
<svg class="ic" style="left:16.5px;top:547px" width="13" height="13" viewBox="0 0 13 13"><circle cx="6.5" cy="6.5" r="5.5" fill="none" stroke="#fff" stroke-width="1.1"/><path d="M4.6 5.2 C4.6 3.9 5.5 3.3 6.5 3.3 C7.6 3.3 8.4 4 8.4 5 C8.4 6.2 6.6 6.3 6.6 7.7" fill="none" stroke="#fff" stroke-width="1.1"/><circle cx="6.6" cy="9.5" r="0.7" fill="#fff"/></svg>
<div class="abs tx" style="left:33.00px;top:547.00px;font-size:10.5px;font-weight:bold;color:#fff;transform:scaleX(0.9177);">Help</div>
<div class="abs" style="left:907.9px;top:451px;width:107.4px;height:62.7px;background:#fff;border-radius:4px;box-shadow:0 0 4px 1px rgba(60,70,120,0.18)"></div>
<div class="abs" style="left:910.3px;top:453.3px;width:1024px;height:580px;transform:scale(0.1002);transform-origin:0 0;overflow:hidden;background:#f3f4fc">
<div class="abs" style="left:0;top:0;width:43px;height:580px;background:#fff"></div>
<div class="abs" style="left:0;top:39.5px;width:43px;height:1px;background:#eef0f8"></div>
<div class="abs" style="left:0;top:254px;width:43px;height:41px;background:#f1f3fa"></div>
<svg class="ic" style="left:4px;top:2px" width="36" height="34" viewBox="0 0 36 34">
    <path d="M30.2 16.3 A12.9 12.9 0 1 0 28.4 22.6" fill="none" stroke="#3b3bf5" stroke-width="1.8"/>
    <path d="M27.2 16.8 H30.6 M24.8 20 H30.9 M19.8 22.7 H28.8" stroke="#3b3bf5" stroke-width="1.8"/>
    <path d="M9.4 22.6 L12.3 12.6 L19.6 9.4 L23.2 13.1 L19.8 20.4 Z" fill="#3b3bf5"/>
    <path d="M22.0 8.0 L24.6 10.6" stroke="#3b3bf5" stroke-width="2.7" stroke-linecap="round"/>
    <circle cx="17.1" cy="15.6" r="1.15" fill="#fff"/>
    <path d="M9.8 22.2 L16.4 16.3" stroke="#fff" stroke-width="0.8"/>
</svg>
<svg class="ic" style="left:13px;top:53px" width="18" height="18" viewBox="0 0 18 18" fill="none" stroke="#8590c8" stroke-width="1.1">
    <rect x="0.55" y="0.55" width="7.3" height="7.3" rx="2"/><rect x="9.85" y="0.55" width="7.3" height="7.3" rx="2"/>
    <rect x="0.55" y="9.85" width="7.3" height="7.3" rx="2"/><rect x="9.85" y="9.85" width="7.3" height="7.3" rx="2"/>
</svg>
<svg class="ic" style="left:14.5px;top:95.5px" width="16" height="18" viewBox="0 0 16 18" fill="none" stroke="#8590c8" stroke-width="0.9">
    <path d="M0.5 0.6 H14.5 V17.4 H0.5 Z"/>
    <path d="M0.5 4.8 H14.5" stroke-width="1.6"/><path d="M0.5 8.2 H14.5 M0.5 11.4 H14.5 M2 2.7 H4.5 M2 6.5 H4 M0.5 14.8 H5.5 M9.5 14.8 H14.5"/>
    <circle cx="7.6" cy="14.4" r="1.9"/><path d="M9 15.8 L10.2 17"/>
</svg>
<svg class="ic" style="left:14.5px;top:138px" width="15" height="18" viewBox="0 0 15 18" fill="none" stroke="#8590c8" stroke-width="0.9">
    <rect x="0.5" y="0.5" width="6" height="5.2" rx="1"/>
    <path d="M0.5 7.3 H6.5 M0.5 9.3 H6.5 M0.5 11.6 H6.5 M0.5 14 H6.5 M0.5 16.8 H6.5"/>
    <rect x="7.8" y="0.5" width="6.7" height="5.2" rx="1"/><rect x="7.8" y="6.6" width="6.7" height="5" rx="1"/><rect x="7.8" y="12.5" width="6.7" height="5" rx="1"/>
</svg>
<svg class="ic" style="left:13px;top:180px" width="18" height="19" viewBox="0 0 18 19" fill="none" stroke="#8590c8" stroke-width="1">
    <circle cx="2.8" cy="14.7" r="2.2"/><path d="M5 14.7 H17.3 M7 4 V14.7 M10.4 1.3 V17.8 M14.1 3.7 V17.8 M9 17.8 H11.8 M12.7 17.8 H15.5"/>
    <path d="M7 4.5 V5.6 M10.4 1.5 V2.6 M14.1 4 V5" stroke-width="1.5"/>
</svg>
<svg class="ic" style="left:13px;top:223px" width="18" height="18" viewBox="0 0 18 18" fill="none" stroke="#7481c2" stroke-width="1.2">
    <rect x="7.6" y="1.4" width="9.6" height="9.6" rx="1.6"/><path d="M8.2 2 L16.6 10.4"/><rect x="0.8" y="7.4" width="9.8" height="9.8" rx="2" fill="#fff"/>
</svg>
<svg class="ic" style="left:13.5px;top:268px" width="17" height="14" viewBox="0 0 17 14" fill="none" stroke="#3a44f0" stroke-width="1.4" stroke-linejoin="round">
    <path d="M8.5 1 L16 4.8 L8.5 8.6 L1 4.8 Z"/><path d="M1.5 8.8 L8.5 12.6 L15.5 8.8"/>
</svg>
<div class="abs" style="left:64px;top:43px;width:932px;height:600px;background:#fff;border-top-right-radius:20px"></div>
<div class="abs" style="left:64px;top:2px;width:142px;height:42px;background:#fff;border-top-left-radius:18px"></div>
<div class="abs" style="left:206px;top:2px;width:145px;height:41px;background:#eaf1fd;border-top-right-radius:16px"></div>
<div class="abs" style="left:64px;top:42px;width:287px;height:1px;background:#f0f2f9"></div>
<div class="abs" style="left:99.5px;top:42px;width:71px;height:1px;background:#b4bfe0"></div>
<div class="abs tx" style="left:93.60px;top:17.00px;font-size:11px;font-weight:bold;color:#333;transform:scaleX(0.9254);">KEYWORD DATA</div>
<div class="abs tx" style="left:253.30px;top:17.00px;font-size:11px;font-weight:bold;color:#4c5c9e;transform:scaleX(0.8534);">CLUSTERS</div>
<svg class="ic" style="left:382.5px;top:15.5px" width="12" height="11" viewBox="0 0 12 11" fill="none" stroke="#7683c2" stroke-width="0.9"><path d="M4.6 8.1 C3.9 7 3.4 6 3.4 4.6 C3.4 2.6 4.6 1.3 6 1.3 C7.4 1.3 8.6 2.6 8.6 4.6 C8.6 6 8.1 7 7.4 8.1 Z M4.7 9.9 H7.3" /><path d="M1.3 1.9 L2.3 2.5 M10.7 1.9 L9.7 2.5 M0.4 4.6 H1.9 M10.1 4.6 H11.6 M1.3 7.3 L2.3 6.7 M10.7 7.3 L9.7 6.7" stroke-width="0.8"/></svg>
<div class="abs tx" style="left:401.00px;top:18.00px;font-size:10px;font-weight:normal;color:#5868a8;transform:scaleX(0.9031);-webkit-text-stroke:0.22px #5868a8;">What’s this</div>
<div class="btn" style="left:81.9px;top:75.2px;width:66.79999999999998px;height:25.39999999999999px"></div>
<div class="btn" style="left:156.1px;top:75.2px;width:66.9px;height:25.39999999999999px"></div>
<div class="btn" style="left:230.2px;top:75.2px;width:71.40000000000003px;height:25.39999999999999px"></div>
<div class="btn" style="left:308.6px;top:75.2px;width:53.89999999999998px;height:25.39999999999999px"></div>
<div class="btn" style="left:370px;top:75.2px;width:88.60000000000002px;height:25.39999999999999px"></div>
<div class="btn" style="left:466.2px;top:75.2px;width:69.59999999999997px;height:25.39999999999999px"></div>
<div class="btn" style="left:543.1px;top:75.2px;width:92.39999999999998px;height:25.39999999999999px"></div>
<div class="btn" style="left:643.1px;top:75.2px;width:57.39999999999998px;height:25.39999999999999px"></div>
<div class="btn" style="left:847.4px;top:75.2px;width:25.0px;height:25.39999999999999px"></div>
<div class="btn" style="left:879.6px;top:75.2px;width:98.10000000000002px;height:25.39999999999999px"></div>
<svg class="ic" style="left:93px;top:84px" width="9" height="9" viewBox="0 0 9 9" stroke="#a3acd8" stroke-width="0.9"><path d="M4.5 0.5 V8.5 M0.5 4.5 H8.5"/></svg>
<div class="abs tx" style="left:107.80px;top:83.00px;font-size:10px;font-weight:normal;color:#5868a8;transform:scaleX(0.8934);-webkit-text-stroke:0.22px #5868a8;">Include</div>
<div class="abs" style="left:166.7px;top:87.9px;width:8px;height:1px;background:#a3acd8"></div>
<div class="abs tx" style="left:181.60px;top:83.00px;font-size:10px;font-weight:normal;color:#5868a8;transform:scaleX(0.8358);-webkit-text-stroke:0.22px #5868a8;">Exclude</div>
<svg class="ic" style="left:241.5px;top:83px" width="12" height="10" viewBox="0 0 12 10" fill="none" stroke="#7683c2" stroke-width="0.8"><path d="M1 3.5 H7.5 M1 6.5 H5 M2 1 H7 C8 1 8.3 1.6 8.3 2.6 M1 3.5 V8.8 H5 M1 3.5 C1 2 1.2 1 2 1"/><circle cx="8" cy="6.3" r="2.1"/><path d="M9.5 7.8 L11.3 9.5"/></svg>
<div class="abs tx" style="left:259.80px;top:83.00px;font-size:10px;font-weight:normal;color:#5868a8;transform:scaleX(0.8937);-webkit-text-stroke:0.22px #5868a8;">Volume</div>
<svg class="ic" style="left:320px;top:83.5px" width="9" height="9.5" viewBox="0 0 9 9.5" fill="none" stroke="#7683c2" stroke-width="0.8"><path d="M3 5 V1.2 C3 0.4 4.3 0.4 4.3 1.2 V4.3 L7 5 C8 5.3 8.3 5.8 8.1 6.8 L7.6 9 H3.5 L1 6.6 C0.5 6 1.4 5.2 2.3 5.8 L3 6.4"/><path d="M4.3 7.2 H6.2" /></svg>
<div class="abs tx" style="left:334.80px;top:83.00px;font-size:10px;font-weight:normal;color:#5868a8;transform:scaleX(0.7754);-webkit-text-stroke:0.22px #5868a8;">CPC</div>
<svg class="ic" style="left:381px;top:85.5px" width="12" height="5.5" viewBox="0 0 12 5.5" fill="none" stroke="#7683c2" stroke-width="0.8"><rect x="0.4" y="0.4" width="11.2" height="4.7" rx="0.8"/><path d="M2.5 0.4 V2 M4.5 0.4 V2 M6.5 0.4 V2 M8.5 0.4 V2"/></svg>
<div class="abs tx" style="left:398.40px;top:83.00px;font-size:10px;font-weight:normal;color:#5868a8;transform:scaleX(0.9233);-webkit-text-stroke:0.22px #5868a8;">Word Count</div>
<svg class="ic" style="left:477.5px;top:83px" width="8" height="10" viewBox="0 0 8 10" fill="none" stroke="#7683c2" stroke-width="0.8"><path d="M0.5 0.5 H5 L7.5 3 V9.5 H0.5 Z M5 0.5 V3 H7.5"/><circle cx="3.8" cy="5.8" r="1.5"/><path d="M4.8 6.8 L5.8 8"/></svg>
<div class="abs tx" style="left:491.00px;top:83.00px;font-size:10px;font-weight:normal;color:#5868a8;transform:scaleX(0.9457);-webkit-text-stroke:0.22px #5868a8;">Allintitle</div>
<svg class="ic" style="left:553.7px;top:83.5px" width="10" height="9.5" viewBox="0 0 10 9.5" fill="none" stroke="#7683c2" stroke-width="0.8"><path d="M0.5 0.5 V9 H9.5 Z M2.6 5 V7.2 H4.8 Z M0.5 3 H1.6 M0.5 5.5 H1.4"/></svg>
<div class="abs tx" style="left:570.20px;top:83.00px;font-size:10px;font-weight:normal;color:#5868a8;transform:scaleX(0.8768);-webkit-text-stroke:0.22px #5868a8;">Golden Score</div>
<div class="abs tx" style="left:654.70px;top:83.00px;font-size:10px;font-weight:normal;color:#5868a8;transform:scaleX(0.9043);-webkit-text-stroke:0.22px #5868a8;">More</div>
<svg class="ic" style="left:679px;top:86px" width="7" height="4" viewBox="0 0 7 4" fill="none" stroke="#7683c2" stroke-width="0.8"><path d="M0.4 0.5 L3.5 3.3 L6.6 0.5"/></svg>
<div class="abs tx" style="left:785.50px;top:84.00px;font-size:10px;font-weight:bold;color:#333;transform:scaleX(0.8458);">Pinup</div>
<div class="abs" style="left:816px;top:87.3px;width:16px;height:3.4px;background:#1b6ef0;border-radius:2px"></div>
<div class="abs" style="left:828.4px;top:82.3px;width:12.6px;height:12.6px;background:#383eff;border-radius:50%"></div>
<svg class="ic" style="left:853.8px;top:83.7px" width="11.6" height="9.3" viewBox="0 0 11.6 9.3" fill="none" stroke="#7683c2" stroke-width="0.8"><rect x="0.4" y="0.4" width="10.8" height="8.5" rx="1"/><path d="M0.4 3 H11.2 M5.8 3 V8.9"/></svg>
<svg class="ic" style="left:891px;top:84px" width="9" height="9" viewBox="0 0 9 9" fill="none" stroke="#7683c2" stroke-width="0.8"><circle cx="4.5" cy="4.5" r="1.4"/><path d="M4.5 0.4 L5.5 1.3 L6.9 1 L7.2 2.4 L8.4 3.2 L7.9 4.5 L8.4 5.8 L7.2 6.6 L6.9 8 L5.5 7.7 L4.5 8.6 L3.5 7.7 L2.1 8 L1.8 6.6 L0.6 5.8 L1.1 4.5 L0.6 3.2 L1.8 2.4 L2.1 1 L3.5 1.3 Z"/></svg>
<div class="abs tx" style="left:906.60px;top:83.00px;font-size:10px;font-weight:normal;color:#5868a8;transform:scaleX(0.9223);-webkit-text-stroke:0.22px #5868a8;">Filter Config</div>
<svg class="ic" style="left:961.2px;top:87.2px" width="4.5" height="3" viewBox="0 0 4.5 3"><path d="M0 0 H4.5 L2.25 2.8 Z" fill="#5868a8"/></svg>
<svg class="ic" style="left:92.0px;top:121.0px" width="12" height="11" viewBox="0 0 12 11" fill="none" stroke="#7683c2" stroke-width="0.9"><path d="M4.6 8.1 C3.9 7 3.4 6 3.4 4.6 C3.4 2.6 4.6 1.3 6 1.3 C7.4 1.3 8.6 2.6 8.6 4.6 C8.6 6 8.1 7 7.4 8.1 Z M4.7 9.9 H7.3" /><path d="M1.3 1.9 L2.3 2.5 M10.7 1.9 L9.7 2.5 M0.4 4.6 H1.9 M10.1 4.6 H11.6 M1.3 7.3 L2.3 6.7 M10.7 7.3 L9.7 6.7" stroke-width="0.8"/></svg>
<div class="abs tx" style="left:110.20px;top:123.00px;font-size:10px;font-weight:normal;color:#5868a8;transform:scaleX(0.9196);-webkit-text-stroke:0.22px #5868a8;">Filter tips</div>
<div class="abs" style="left:81.9px;top:155.3px;width:115px;height:25px;border:1px solid #d3d9ec;border-radius:3px;background:#fff"></div>
<div class="abs tx" style="left:100.30px;top:163.00px;font-size:10px;font-weight:normal;color:#333;transform:scaleX(0.9149);-webkit-text-stroke:0.22px #333;">0 keyword selected</div>
<div class="abs" style="left:204.3px;top:155.1px;width:62.9px;height:25.4px;background:#d7dded;border-radius:5px"></div>
<svg class="ic" style="left:215.2px;top:163.8px" width="7.5" height="7.5" viewBox="0 0 7.5 7.5" stroke="#fff" stroke-width="0.9"><path d="M3.75 0 V7.5 M0 3.75 H7.5"/></svg>
<div class="abs tx" style="left:229.00px;top:162.00px;font-size:10px;font-weight:normal;color:#fff;transform:scaleX(0.9336);-webkit-text-stroke:0.22px #fff;">Add to</div>
<div class="btn" style="left:274.2px;top:155px;width:65.19999999999999px;height:25.69999999999999px"></div>
<div class="btn" style="left:347.2px;top:155px;width:84.69999999999999px;height:25.69999999999999px"></div>
<svg class="ic" style="left:285.8px;top:163px" width="11" height="10" viewBox="0 0 11 10" fill="none" stroke="#7683c2" stroke-width="0.8"><path d="M6.5 3 V2 L5 0.5 H0.5 V9.5 H6.5 V7.5 M4.5 5 H10.2 M8.5 3.3 L10.2 5 L8.5 6.7 M5 0.5 V2 H6.5"/></svg>
<div class="abs tx" style="left:302.70px;top:163.00px;font-size:10px;font-weight:normal;color:#5868a8;transform:scaleX(0.8825);-webkit-text-stroke:0.22px #5868a8;">Export</div>
<svg class="ic" style="left:358px;top:162.8px" width="8" height="10" viewBox="0 0 8 10" fill="none" stroke="#7683c2" stroke-width="0.8"><path d="M0.5 0.5 H5 L7.5 3 V9.5 H0.5 Z M5 0.5 V3 H7.5 M2.2 6.2 L3.4 7.4 L5.6 5"/></svg>
<div class="abs tx" style="left:371.60px;top:163.00px;font-size:10px;font-weight:normal;color:#5868a8;transform:scaleX(0.8494);-webkit-text-stroke:0.22px #5868a8;">ESKP Config</div>
<div class="abs" style="left:82px;top:195px;width:895.5px;height:400px;border:1px solid #dde1ef;border-radius:12px 0 0 0;background:#fff"></div>
<div class="abs" style="left:83px;top:196px;width:893.5px;height:31px;background:#f1f1f2;border-radius:11px 0 0 0"></div>
<svg class="ic" style="left:97px;top:206.2px" width="10" height="10" viewBox="0 0 10 10" fill="none" stroke="#8d92a6" stroke-width="1"><path d="M8.12 3.2 A3.6 3.6 0 0 1 3.2 8.12"/><path d="M1.88 6.8 A3.6 3.6 0 0 1 6.8 1.88"/><path d="M8.3 2.7 L7.5 0.7 L6.1 3.0 Z M1.7 7.3 L2.5 9.3 L3.9 7.0 Z" fill="#8d92a6" stroke-width="0.4"/></svg>
<div class="abs" style="left:129.2px;top:206px;width:11.8px;height:11.8px;border:1px solid #6f7cbf;border-radius:2.5px;background:#fff"></div>
<div class="abs tx" style="left:162.00px;top:206.00px;font-size:10px;font-weight:normal;color:#5868a8;transform:scaleX(0.8397);-webkit-text-stroke:0.22px #5868a8;">KEYWORD</div>
<svg class="ic" style="left:212.2px;top:207px" width="6" height="9" viewBox="0 0 6 9" fill="none" stroke="#aab0c4" stroke-width="0.8"><path d="M0.8 3.6 L3 0.8 L5.2 3.6 Z M0.8 5.4 L3 8.2 L5.2 5.4 Z"/></svg>
<div class="abs tx" style="left:391.80px;top:206.00px;font-size:10px;font-weight:normal;color:#5868a8;transform:scaleX(0.8240);-webkit-text-stroke:0.22px #5868a8;">TREND</div>
<svg class="ic" style="left:468px;top:206.8px" width="6" height="4" viewBox="0 0 6 4" fill="none" stroke="#aab0c4" stroke-width="0.8"><path d="M0.6 3.4 L3 0.6 L5.4 3.4 Z"/></svg>
<div class="abs tx" style="left:480.00px;top:206.00px;font-size:10px;font-weight:normal;color:#5868a8;transform:scaleX(0.8458);-webkit-text-stroke:0.22px #5868a8;">VOLUME</div>
<svg class="ic" style="left:538.5px;top:207px" width="6" height="9" viewBox="0 0 6 9" fill="none" stroke="#aab0c4" stroke-width="0.8"><path d="M0.8 3.6 L3 0.8 L5.2 3.6 Z M0.8 5.4 L3 8.2 L5.2 5.4 Z"/></svg>
<div class="abs" style="left:83px;top:227px;width:893.5px;height:34px;background:#f6f9fd"></div>
<div class="abs tx" style="left:97.20px;top:239.00px;font-size:10px;font-weight:bold;color:#333;transform:scaleX(0.8303);">51</div>
<div class="abs" style="left:129.2px;top:238.6px;width:11.8px;height:11.8px;border:1px solid #8591cc;border-radius:2.5px;background:#fff"></div>
<div class="abs tx" style="left:162.40px;top:239.00px;font-size:10px;font-weight:bold;color:#2b2b2b;transform:scaleX(0.8808);">tr lightweight running shoes for men’s-65</div>
<svg class="ic" style="left:433.5px;top:239.0px" width="10" height="9.5" viewBox="0 0 10 9.5" fill="none" stroke="#6e7af4" stroke-width="1.1"><circle cx="4" cy="4" r="3.3"/><path d="M6.4 6.4 L9.2 9"/></svg>
<div class="abs tx" style="left:502.00px;top:239.00px;font-size:10px;font-weight:bold;color:#2b2b2b;transform:scaleX(0.8160);">&lt;10</div>
<div class="abs tx" style="left:97.20px;top:273.00px;font-size:10px;font-weight:bold;color:#333;transform:scaleX(0.8303);">53</div>
<div class="abs" style="left:129.2px;top:272.35px;width:11.8px;height:11.8px;border:1px solid #8591cc;border-radius:2.5px;background:#fff"></div>
<div class="abs tx" style="left:162.40px;top:273.00px;font-size:10px;font-weight:bold;color:#2b2b2b;transform:scaleX(0.8732);">best running shoes for men under 1000</div>
<svg class="ic" style="left:433.5px;top:272.75px" width="10" height="9.5" viewBox="0 0 10 9.5" fill="none" stroke="#6e7af4" stroke-width="1.1"><circle cx="4" cy="4" r="3.3"/><path d="M6.4 6.4 L9.2 9"/></svg>
<div class="abs tx" style="left:502.00px;top:273.00px;font-size:10px;font-weight:bold;color:#2b2b2b;transform:scaleX(0.8160);">&lt;10</div>
<div class="abs" style="left:83px;top:294.5px;width:893.5px;height:34.5px;background:#f6f9fd"></div>
<div class="abs tx" style="left:97.20px;top:307.00px;font-size:10px;font-weight:bold;color:#333;transform:scaleX(0.8303);">52</div>
<div class="abs" style="left:129.2px;top:306.35px;width:11.8px;height:11.8px;border:1px solid #8591cc;border-radius:2.5px;background:#fff"></div>
<div class="abs tx" style="left:162.40px;top:301.00px;font-size:10px;font-weight:bold;color:#2b2b2b;transform:scaleX(0.8725);">campus toronto running shoes for</div>
<div class="abs tx" style="left:162.40px;top:312.00px;font-size:10px;font-weight:bold;color:#2b2b2b;transform:scaleX(0.8750);">men(navy)</div>
<svg class="ic" style="left:433.5px;top:306.75px" width="10" height="9.5" viewBox="0 0 10 9.5" fill="none" stroke="#6e7af4" stroke-width="1.1"><circle cx="4" cy="4" r="3.3"/><path d="M6.4 6.4 L9.2 9"/></svg>
<div class="abs tx" style="left:502.00px;top:307.00px;font-size:10px;font-weight:bold;color:#2b2b2b;transform:scaleX(0.8160);">&lt;10</div>
<div class="abs tx" style="left:97.20px;top:342.00px;font-size:10px;font-weight:bold;color:#333;transform:scaleX(0.8303);">54</div>
<div class="abs" style="left:129.2px;top:341.1px;width:11.8px;height:11.8px;border:1px solid #8591cc;border-radius:2.5px;background:#fff"></div>
<div class="abs tx" style="left:162.40px;top:342.00px;font-size:10px;font-weight:bold;color:#2b2b2b;transform:scaleX(0.8750);">best running shoes for men under 1500</div>
<svg class="ic" style="left:433.5px;top:341.5px" width="10" height="9.5" viewBox="0 0 10 9.5" fill="none" stroke="#6e7af4" stroke-width="1.1"><circle cx="4" cy="4" r="3.3"/><path d="M6.4 6.4 L9.2 9"/></svg>
<div class="abs tx" style="left:502.00px;top:342.00px;font-size:10px;font-weight:bold;color:#2b2b2b;transform:scaleX(0.8160);">&lt;10</div>
<div class="abs" style="left:83px;top:364px;width:893.5px;height:35.5px;background:#f6f9fd"></div>
<div class="abs tx" style="left:97.20px;top:377.00px;font-size:10px;font-weight:bold;color:#333;transform:scaleX(0.8303);">41</div>
<div class="abs" style="left:129.2px;top:376.35px;width:11.8px;height:11.8px;border:1px solid #8591cc;border-radius:2.5px;background:#fff"></div>
<div class="abs tx" style="left:162.40px;top:377.00px;font-size:10px;font-weight:bold;color:#2b2b2b;transform:scaleX(0.8750);">best running shoes for men with bad knees</div>
<svg class="ic" style="left:368px;top:369.75px" width="60" height="24" viewBox="0 0 60 24" fill="#3a3eff"><rect x="1.75" y="18.60" width="2.8" height="2.0"/><rect x="6.50" y="3.60" width="2.8" height="17"/><rect x="11.25" y="18.60" width="2.8" height="2.0"/><rect x="16.00" y="18.60" width="2.8" height="2.0"/><rect x="20.75" y="18.60" width="2.8" height="2.0"/><rect x="25.50" y="18.60" width="2.8" height="2.0"/><rect x="30.25" y="3.60" width="2.8" height="17"/><rect x="35.00" y="18.60" width="2.8" height="2.0"/><rect x="39.75" y="18.60" width="2.8" height="2.0"/><rect x="44.50" y="18.60" width="2.8" height="2.0"/><rect x="49.25" y="3.60" width="2.8" height="17"/><rect x="54.00" y="18.60" width="2.8" height="2.0"/></svg>
<svg class="ic" style="left:433.5px;top:376.75px" width="10" height="9.5" viewBox="0 0 10 9.5" fill="none" stroke="#6e7af4" stroke-width="1.1"><circle cx="4" cy="4" r="3.3"/><path d="M6.4 6.4 L9.2 9"/></svg>
<div class="abs tx" style="left:506.60px;top:377.00px;font-size:10px;font-weight:bold;color:#2b2b2b;transform:scaleX(0.8303);">10</div>
<div class="abs tx" style="left:97.20px;top:412.00px;font-size:10px;font-weight:bold;color:#333;transform:scaleX(0.8303);">30</div>
<div class="abs" style="left:129.2px;top:411.85px;width:11.8px;height:11.8px;border:1px solid #8591cc;border-radius:2.5px;background:#fff"></div>
<div class="abs tx" style="left:162.40px;top:412.00px;font-size:10px;font-weight:bold;color:#2b2b2b;transform:scaleX(0.8750);">best looking running shoes for men</div>
<svg class="ic" style="left:368px;top:405.25px" width="60" height="24" viewBox="0 0 60 24" fill="#3a3eff"><rect x="1.75" y="3.60" width="2.8" height="17"/><rect x="6.50" y="3.60" width="2.8" height="17"/><rect x="11.25" y="18.60" width="2.8" height="2.0"/><rect x="16.00" y="3.60" width="2.8" height="17"/><rect x="20.75" y="3.60" width="2.8" height="17"/><rect x="25.50" y="3.60" width="2.8" height="17"/><rect x="30.25" y="18.60" width="2.8" height="2.0"/><rect x="35.00" y="3.60" width="2.8" height="17"/><rect x="39.75" y="18.60" width="2.8" height="2.0"/><rect x="44.50" y="18.60" width="2.8" height="2.0"/><rect x="49.25" y="18.60" width="2.8" height="2.0"/><rect x="54.00" y="3.60" width="2.8" height="17"/></svg>
<svg class="ic" style="left:433.5px;top:412.25px" width="10" height="9.5" viewBox="0 0 10 9.5" fill="none" stroke="#6e7af4" stroke-width="1.1"><circle cx="4" cy="4" r="3.3"/><path d="M6.4 6.4 L9.2 9"/></svg>
<div class="abs tx" style="left:506.60px;top:412.00px;font-size:10px;font-weight:bold;color:#2b2b2b;transform:scaleX(0.8303);">10</div>
<div class="abs" style="left:83px;top:435px;width:893.5px;height:36px;background:#f6f9fd"></div>
<div class="abs tx" style="left:97.20px;top:448.00px;font-size:10px;font-weight:bold;color:#333;transform:scaleX(0.8303);">36</div>
<div class="abs" style="left:129.2px;top:447.6px;width:11.8px;height:11.8px;border:1px solid #8591cc;border-radius:2.5px;background:#fff"></div>
<div class="abs tx" style="left:162.40px;top:448.00px;font-size:10px;font-weight:bold;color:#2b2b2b;transform:scaleX(0.8750);">best running shoes for men under 100</div>
<svg class="ic" style="left:368px;top:441.0px" width="60" height="24" viewBox="0 0 60 24" fill="#3a3eff"><rect x="1.75" y="3.60" width="2.8" height="17"/><rect x="6.50" y="18.60" width="2.8" height="2.0"/><rect x="11.25" y="18.60" width="2.8" height="2.0"/><rect x="16.00" y="18.60" width="2.8" height="2.0"/><rect x="20.75" y="3.60" width="2.8" height="17"/><rect x="25.50" y="18.60" width="2.8" height="2.0"/><rect x="30.25" y="18.60" width="2.8" height="2.0"/><rect x="35.00" y="18.60" width="2.8" height="2.0"/><rect x="39.75" y="18.60" width="2.8" height="2.0"/><rect x="44.50" y="3.60" width="2.8" height="17"/><rect x="49.25" y="3.60" width="2.8" height="17"/><rect x="54.00" y="18.60" width="2.8" height="2.0"/></svg>
<svg class="ic" style="left:433.5px;top:448.0px" width="10" height="9.5" viewBox="0 0 10 9.5" fill="none" stroke="#6e7af4" stroke-width="1.1"><circle cx="4" cy="4" r="3.3"/><path d="M6.4 6.4 L9.2 9"/></svg>
<div class="abs tx" style="left:506.60px;top:448.00px;font-size:10px;font-weight:bold;color:#2b2b2b;transform:scaleX(0.8303);">10</div>
<div class="abs tx" style="left:97.20px;top:484.00px;font-size:10px;font-weight:bold;color:#333;transform:scaleX(0.8303);">38</div>
<div class="abs" style="left:129.2px;top:483.6px;width:11.8px;height:11.8px;border:1px solid #8591cc;border-radius:2.5px;background:#fff"></div>
<div class="abs tx" style="left:162.40px;top:484.00px;font-size:10px;font-weight:bold;color:#2b2b2b;transform:scaleX(0.8750);">best rated running shoes for men</div>
<svg class="ic" style="left:368px;top:477.0px" width="60" height="24" viewBox="0 0 60 24" fill="#3a3eff"><rect x="1.75" y="18.60" width="2.8" height="2.0"/><rect x="6.50" y="18.60" width="2.8" height="2.0"/><rect x="11.25" y="18.60" width="2.8" height="2.0"/><rect x="16.00" y="3.60" width="2.8" height="17"/><rect x="20.75" y="18.60" width="2.8" height="2.0"/><rect x="25.50" y="3.60" width="2.8" height="17"/><rect x="30.25" y="18.60" width="2.8" height="2.0"/><rect x="35.00" y="18.60" width="2.8" height="2.0"/><rect x="39.75" y="18.60" width="2.8" height="2.0"/><rect x="44.50" y="3.60" width="2.8" height="17"/><rect x="49.25" y="18.60" width="2.8" height="2.0"/><rect x="54.00" y="18.60" width="2.8" height="2.0"/></svg>
<svg class="ic" style="left:433.5px;top:484.0px" width="10" height="9.5" viewBox="0 0 10 9.5" fill="none" stroke="#6e7af4" stroke-width="1.1"><circle cx="4" cy="4" r="3.3"/><path d="M6.4 6.4 L9.2 9"/></svg>
<div class="abs tx" style="left:506.60px;top:484.00px;font-size:10px;font-weight:bold;color:#2b2b2b;transform:scaleX(0.8303);">10</div>
<div class="abs" style="left:83px;top:507px;width:893.5px;height:35.5px;background:#f6f9fd"></div>
<div class="abs tx" style="left:97.20px;top:520.00px;font-size:10px;font-weight:bold;color:#333;transform:scaleX(0.8303);">55</div>
<div class="abs" style="left:129.2px;top:519.35px;width:11.8px;height:11.8px;border:1px solid #8591cc;border-radius:2.5px;background:#fff"></div>
<div class="abs tx" style="left:162.40px;top:514.00px;font-size:10px;font-weight:bold;color:#2b2b2b;transform:scaleX(0.8750);">puma jaunt idp running shoes for</div>
<div class="abs tx" style="left:162.40px;top:525.00px;font-size:10px;font-weight:bold;color:#2b2b2b;transform:scaleX(0.8750);">men(black)</div>
<svg class="ic" style="left:433.5px;top:519.75px" width="10" height="9.5" viewBox="0 0 10 9.5" fill="none" stroke="#6e7af4" stroke-width="1.1"><circle cx="4" cy="4" r="3.3"/><path d="M6.4 6.4 L9.2 9"/></svg>
<div class="abs tx" style="left:502.00px;top:520.00px;font-size:10px;font-weight:bold;color:#2b2b2b;transform:scaleX(0.8160);">&lt;10</div>
<div class="abs tx" style="left:97.20px;top:555.00px;font-size:10px;font-weight:bold;color:#333;transform:scaleX(0.8303);">25</div>
<div class="abs" style="left:129.2px;top:554.85px;width:11.8px;height:11.8px;border:1px solid #8591cc;border-radius:2.5px;background:#fff"></div>
<div class="abs tx" style="left:162.40px;top:555.00px;font-size:10px;font-weight:bold;color:#2b2b2b;transform:scaleX(0.8750);">best affordable running shoes for men</div>
<svg class="ic" style="left:368px;top:548.25px" width="60" height="24" viewBox="0 0 60 24" fill="#3a3eff"><rect x="1.75" y="3.60" width="2.8" height="17"/><rect x="6.50" y="18.60" width="2.8" height="2.0"/><rect x="11.25" y="18.60" width="2.8" height="2.0"/><rect x="16.00" y="18.60" width="2.8" height="2.0"/><rect x="20.75" y="3.60" width="2.8" height="17"/><rect x="25.50" y="3.60" width="2.8" height="17"/><rect x="30.25" y="3.60" width="2.8" height="17"/><rect x="35.00" y="18.60" width="2.8" height="2.0"/><rect x="39.75" y="18.60" width="2.8" height="2.0"/><rect x="44.50" y="3.60" width="2.8" height="17"/><rect x="49.25" y="18.60" width="2.8" height="2.0"/><rect x="54.00" y="3.60" width="2.8" height="17"/></svg>
<svg class="ic" style="left:433.5px;top:555.25px" width="10" height="9.5" viewBox="0 0 10 9.5" fill="none" stroke="#6e7af4" stroke-width="1.1"><circle cx="4" cy="4" r="3.3"/><path d="M6.4 6.4 L9.2 9"/></svg>
<div class="abs tx" style="left:506.60px;top:555.00px;font-size:10px;font-weight:bold;color:#2b2b2b;transform:scaleX(0.8303);">10</div>
<div class="abs" style="left:83px;top:578px;width:893.5px;height:42px;background:#f6f9fd"></div>
<div class="abs tx" style="left:556.10px;top:556.00px;font-size:10px;font-weight:bold;color:#2b2b2b;transform:scaleX(0.8577);">0.2</div>
<div class="abs tx" style="left:661.60px;top:556.00px;font-size:10px;font-weight:bold;color:#2b2b2b;transform:scaleX(1.0000);">6</div>
<div class="abs tx" style="left:744.00px;top:556.00px;font-size:10px;font-weight:bold;color:#2b2b2b;transform:scaleX(1.0000);">4</div>
<div class="abs tx" style="left:830.90px;top:556.00px;font-size:10px;font-weight:bold;color:#2b2b2b;transform:scaleX(0.8012);">1.241</div>
<div class="abs" style="left:897.5px;top:551.2px;width:71.3px;height:18.4px;background:#fde0d2;border-radius:4px"></div>
<div class="abs tx" style="left:922.80px;top:556.00px;font-size:10px;font-weight:bold;color:#f52a1f;transform:scaleX(0.8956);">High</div>
<div class="abs" style="left:543px;top:111.5px;width:434px;height:434px;background:#fff;border:1px solid #ccd4ea;border-radius:6px;box-shadow:0 -1px 4px rgba(90,100,160,0.10)"></div>
<div class="abs tx" style="left:551.25px;top:120.00px;font-size:9.5px;font-weight:bold;color:#4c5c9e;transform:scaleX(0.8597);">GOLDEN FILTER</div>
<svg class="ic" style="left:627.0px;top:119.0px" width="12" height="11" viewBox="0 0 12 11" fill="none" stroke="#7683c2" stroke-width="0.9"><path d="M4.6 8.1 C3.9 7 3.4 6 3.4 4.6 C3.4 2.6 4.6 1.3 6 1.3 C7.4 1.3 8.6 2.6 8.6 4.6 C8.6 6 8.1 7 7.4 8.1 Z M4.7 9.9 H7.3" /><path d="M1.3 1.9 L2.3 2.5 M10.7 1.9 L9.7 2.5 M0.4 4.6 H1.9 M10.1 4.6 H11.6 M1.3 7.3 L2.3 6.7 M10.7 7.3 L9.7 6.7" stroke-width="0.8"/></svg>
<div class="abs" style="left:551.2px;top:142.1px;width:417.7px;height:16.8px;border:1px solid #5a68a8;border-radius:3px;background:#fff;overflow:hidden"><div class="abs" style="left:208px;top:-1px;width:212px;height:17px;background:#5a68a8"></div></div>
<div class="abs tx" style="left:613.75px;top:146.00px;font-size:9px;font-weight:normal;color:#4c5c9e;transform:scaleX(0.9226);-webkit-text-stroke:0.22px #4c5c9e;">By Ranking Probability</div>
<div class="abs tx" style="left:830.30px;top:145.00px;font-size:9px;font-weight:normal;color:#fff;transform:scaleX(0.9221);-webkit-text-stroke:0.22px #fff;">By Potential Value</div>
<div class="abs" style="left:551.1px;top:170.1px;width:417.6px;height:92.4px;background:#eff5fd;border:1px solid #c8e4f4;border-radius:6px"></div>
<svg class="ic" style="left:558.9px;top:180.0px" width="9.0" height="9.0" viewBox="0 0 9 9"><circle cx="4.5" cy="4.5" r="4.5" fill="#4f5ea6"/><rect x="3.95" y="3.7" width="1.1" height="3.4" fill="#fff"/><circle cx="4.5" cy="2.45" r="0.68" fill="#fff"/></svg>
<div class="abs tx" style="left:573.00px;top:179.00px;font-size:10px;font-weight:normal;color:#333;transform:scaleX(0.9052);-webkit-text-stroke:0.22px #333;">Keywords filtered by Writerzen’s Golden Score system. These are keywords sorted by their</div>
<div class="abs tx" style="left:573.00px;top:192.00px;font-size:10px;font-weight:normal;color:#333;transform:scaleX(0.9415);-webkit-text-stroke:0.22px #333;">commercial potential yet low in competition. Unlike filtering by ranking probability, this may</div>
<div class="abs tx" style="left:573.00px;top:205.00px;font-size:10px;font-weight:normal;color:#333;transform:scaleX(0.9329);-webkit-text-stroke:0.22px #333;">include keywords with higher allinttile number but compensated by exponentially higher</div>
<div class="abs tx" style="left:573.00px;top:218.00px;font-size:10px;font-weight:normal;color:#333;transform:scaleX(0.9207);-webkit-text-stroke:0.22px #333;">search volume, making them great in value yet harder to achieve ranking. This type of filter fit</div>
<div class="abs tx" style="left:573.91px;top:231.00px;font-size:10px;font-weight:normal;color:#333;transform:scaleX(0.9103);-webkit-text-stroke:0.22px #333;">well with team that has rich SEO resources and strong technical background, capable of</div>
<div class="abs tx" style="left:573.00px;top:244.00px;font-size:10px;font-weight:normal;color:#333;transform:scaleX(0.9434);-webkit-text-stroke:0.22px #333;">targeting more difficult keywords.</div>
<div class="abs tx" style="left:551.25px;top:273.00px;font-size:10px;font-weight:bold;color:#3a3a3a;transform:scaleX(0.8479);">Golden Score</div>
<div class="abs" style="left:551.5px;top:291.5px;width:417px;height:81.5px;background:#f2f3fc;border-radius:8px"></div>
<div class="abs" style="left:568.7px;top:308.5px;width:383px;height:7px;border-radius:3.5px;background:linear-gradient(to right,#00c400 0%,#00c400 70%,#6cae10 71.5%,#ffa000 79%,#ffa000 100%)"></div>
<div class="abs" style="left:813px;top:302px;width:29.2px;height:20.5px;background:#fff;border-radius:6px"></div>
<div class="abs" style="left:816.2px;top:304px;width:23.2px;height:15.3px;background:#3c3cf5;border-radius:4px"></div>
<div class="abs tx" style="left:819.55px;top:307.00px;font-size:8px;font-weight:bold;color:#fff;transform:scaleX(0.8021);">1.618</div>
<div class="abs" style="left:568.7px;top:332.7px;width:260px;height:1px;background:#5fd45f"></div>
<div class="abs" style="left:828.6px;top:332.7px;width:123px;height:1px;background:#ffb23a"></div>
<div class="abs" style="left:568.5px;top:326px;width:1px;height:7px;background:#5fd45f"></div>
<div class="abs tx" style="left:566.50px;top:339.00px;font-size:8.5px;font-weight:bold;color:#22c022;transform:scaleX(1.0000);-webkit-text-stroke:0.2px #22c022;">1</div>
<div class="abs" style="left:633.0px;top:329.5px;width:1px;height:3.5px;background:#5fd45f"></div>
<div class="abs tx" style="left:625.25px;top:339.00px;font-size:8.5px;font-weight:bold;color:#22c022;transform:scaleX(0.7659);-webkit-text-stroke:0.2px #22c022;">1.155</div>
<div class="abs" style="left:697.8px;top:329.5px;width:1px;height:3.5px;background:#5fd45f"></div>
<div class="abs tx" style="left:690.05px;top:339.00px;font-size:8.5px;font-weight:bold;color:#22c022;transform:scaleX(0.7659);-webkit-text-stroke:0.2px #22c022;">1.309</div>
<div class="abs" style="left:762.5px;top:329.5px;width:1px;height:3.5px;background:#5fd45f"></div>
<div class="abs tx" style="left:754.75px;top:339.00px;font-size:8.5px;font-weight:bold;color:#22c022;transform:scaleX(0.7659);-webkit-text-stroke:0.2px #22c022;">1.464</div>
<div class="abs" style="left:827.8px;top:329.5px;width:1px;height:3.5px;background:#5fd45f"></div>
<div class="abs tx" style="left:820.40px;top:339.00px;font-size:8.5px;font-weight:bold;color:#22c022;transform:scaleX(0.7334);-webkit-text-stroke:0.2px #22c022;">1.618</div>
<div class="abs" style="left:892.5px;top:329.5px;width:1px;height:3.5px;background:#ffb23a"></div>
<div class="abs tx" style="left:884.65px;top:339.00px;font-size:8.5px;font-weight:bold;color:#ffa000;transform:scaleX(0.7752);-webkit-text-stroke:0.2px #ffa000;">1.773</div>
<div class="abs" style="left:950.7px;top:326px;width:1px;height:7px;background:#ffb23a"></div>
<div class="abs tx" style="left:943.20px;top:339.00px;font-size:8.5px;font-weight:bold;color:#ffa000;transform:scaleX(0.7427);-webkit-text-stroke:0.2px #ffa000;">1.912</div>
<svg class="ic" style="left:558.1px;top:359.59999999999997px" width="7.2" height="7.2" viewBox="0 0 9 9"><circle cx="4.5" cy="4.5" r="4.5" fill="#4f5ea6"/><rect x="3.95" y="3.7" width="1.1" height="3.4" fill="#fff"/><circle cx="4.5" cy="2.45" r="0.68" fill="#fff"/></svg>
<div class="abs tx" style="left:568.70px;top:358.00px;font-size:8px;font-weight:normal;color:#555;transform:scaleX(0.9707);-webkit-text-stroke:0.22px #555;">1 is the highest score &amp; 1.618 is the recommended limit. Any score beyond 1.618 is not recommended.</div>
<div class="abs" style="left:551px;top:388.4px;width:166.3px;height:1px;background:#dde2ee"></div>
<div class="abs" style="left:801.7px;top:388.4px;width:167px;height:1px;background:#dde2ee"></div>
<div class="abs tx" style="left:724.80px;top:382.00px;font-size:10px;font-weight:normal;color:#4c5ca0;transform:scaleX(0.9412);-webkit-text-stroke:0.22px #4c5ca0;">Overview Report</div>
<div class="abs tx" style="left:656.00px;top:401.00px;font-size:10px;font-weight:normal;color:#555;transform:scaleX(0.9067);-webkit-text-stroke:0.22px #555;">For keywords which stand in the range of</div>
<div class="abs tx" style="left:826.30px;top:401.00px;font-size:10px;font-weight:bold;color:#333;transform:scaleX(0.9571);">1 - 1.618</div>
<div class="abs" style="left:551px;top:424px;width:93.5px;height:74.4px;background:#fff;border-radius:8px;box-shadow:0 0 7px 4px rgba(120,130,210,0.07)"></div>
<div class="abs" style="left:586.3000000000001px;top:432px;width:22.8px;height:22.8px;border-radius:50%;background:#e1e5f6"></div>
<svg class="ic" style="left:590.7px;top:436.5px" width="14" height="14" viewBox="0 0 14 14"><path d="M6.4 7.6 L2.3 11.7" stroke="#5d6aae" stroke-width="3.1" stroke-linecap="round"/><path d="M6.6 7.4 L2.3 11.7" stroke="#e1e5f6" stroke-width="1.1" stroke-linecap="round"/><circle cx="8.7" cy="5.3" r="3.5" fill="#e1e5f6" stroke="#5d6aae" stroke-width="1.05"/><circle cx="9.6" cy="4.3" r="0.65" fill="#5d6aae"/></svg>
<div class="abs tx" style="left:578.35px;top:462.00px;font-size:9.5px;font-weight:normal;color:#3a3a3a;transform:scaleX(0.9223);-webkit-text-stroke:0.22px #3a3a3a;">Keywords</div>
<div class="abs tx" style="left:594.40px;top:479.00px;font-size:12px;font-weight:bold;color:#2b2b2b;transform:scaleX(0.9429);">9</div>
<div class="abs" style="left:658.9px;top:424px;width:93.5px;height:74.4px;background:#fff;border-radius:8px;box-shadow:0 0 7px 4px rgba(120,130,210,0.07)"></div>
<div class="abs" style="left:694.2px;top:432px;width:22.8px;height:22.8px;border-radius:50%;background:#e1e5f6"></div>
<svg class="ic" style="left:698.6px;top:436.5px" width="14" height="14" viewBox="0 0 14 14"><g fill="none" stroke="#5d6aae" stroke-width="1.05"><path d="M8.6 4.6 V3.2 C8.6 2.2 7.9 1.6 6.9 1.6 H2.8 C1.8 1.6 1.2 2.2 1.2 3.2 V9.8 C1.2 10.8 1.8 11.4 2.8 11.4 H5.6 M1.2 5.2 H6.2 M1.2 8.2 H5.2"/><circle cx="9" cy="8.3" r="2.5"/><path d="M10.8 10.1 L12.8 12.1"/></g></svg>
<div class="abs tx" style="left:672.70px;top:462.00px;font-size:9.5px;font-weight:normal;color:#3a3a3a;transform:scaleX(0.9313);-webkit-text-stroke:0.22px #3a3a3a;">Total Search Vol.</div>
<div class="abs tx" style="left:699.10px;top:479.00px;font-size:12px;font-weight:bold;color:#2b2b2b;transform:scaleX(0.9507);">90</div>
<div class="abs" style="left:767.5px;top:424px;width:93.5px;height:74.4px;background:#fff;border-radius:8px;box-shadow:0 0 7px 4px rgba(120,130,210,0.07)"></div>
<div class="abs" style="left:802.8000000000001px;top:432px;width:22.8px;height:22.8px;border-radius:50%;background:#e1e5f6"></div>
<svg class="ic" style="left:807.2px;top:436.5px" width="14" height="14" viewBox="0 0 14 14"><g fill="none" stroke="#5d6aae" stroke-width="1.05" stroke-linejoin="round"><path d="M4.7 8.2 V2.6 C4.7 1.4 6.5 1.4 6.5 2.6 V6.2 L9.7 7 C10.9 7.3 11.2 8.1 11 9 L10.4 11.6 C10.3 12.1 9.9 12.5 9.3 12.5 H5.9 C5.4 12.5 5 12.3 4.7 11.9 L2.7 9.5 C2.1 8.7 3.2 7.6 4.7 8.6"/></g><rect x="6.6" y="9" width="2.8" height="1.8" rx="0.4" fill="none" stroke="#5d6aae" stroke-width="0.7"/></svg>
<div class="abs tx" style="left:795.90px;top:462.00px;font-size:9.5px;font-weight:normal;color:#3a3a3a;transform:scaleX(0.8782);-webkit-text-stroke:0.22px #3a3a3a;">Avg. CPC</div>
<div class="abs tx" style="left:802.40px;top:479.00px;font-size:12px;font-weight:bold;color:#2b2b2b;transform:scaleX(0.9966);">0.02</div>
<div class="abs" style="left:876px;top:424px;width:93.5px;height:74.4px;background:#fff;border-radius:8px;box-shadow:0 0 7px 4px rgba(120,130,210,0.07)"></div>
<div class="abs" style="left:911.3000000000001px;top:432px;width:22.8px;height:22.8px;border-radius:50%;background:#e1e5f6"></div>
<svg class="ic" style="left:915.7px;top:436.5px" width="14" height="14" viewBox="0 0 14 14"><g fill="none" stroke="#5d6aae" stroke-width="1.1" stroke-linejoin="round"><path d="M1.6 1.4 V12.4 H12.6 Z M4.2 6.8 V9.8 H7.2 Z"/><path d="M1.6 4.2 H3 M1.6 7 H2.6" stroke-width="0.8"/></g></svg>
<div class="abs tx" style="left:885.20px;top:462.00px;font-size:9.5px;font-weight:normal;color:#3a3a3a;transform:scaleX(0.9460);-webkit-text-stroke:0.22px #3a3a3a;">Avg. Golden Score</div>
<div class="abs tx" style="left:913.70px;top:479.00px;font-size:12px;font-weight:bold;color:#2b2b2b;transform:scaleX(1.0583);">1.4</div>
<div class="abs" style="left:551px;top:512.5px;width:418px;height:25.3px;background:#383eff;border-radius:6px"></div>
<div class="abs tx" style="left:748.25px;top:520.00px;font-size:10px;font-weight:normal;color:#fff;transform:scaleX(0.9394);-webkit-text-stroke:0.22px #fff;">Apply</div>
<div class="abs" style="left:1017px;top:0;width:7px;height:580px;background:#fff"></div>
<div class="abs" style="left:1017px;top:40px;width:7px;height:262px;background:#b9bfdc;border-radius:4px 0 0 4px"></div>
<div class="abs" style="left:990px;top:246.7px;width:27px;height:83.5px;background:#2a68ee;border-radius:3px 0 0 3px"></div>
<div class="abs" style="left:963.5px;top:276px;width:80px;height:12px;transform:rotate(-90deg);transform-origin:40px 6px;text-align:center;color:#fff;font-size:11px;font-weight:normal;line-height:12px;white-space:nowrap;letter-spacing:0.15px;-webkit-text-stroke:0.25px #fff;will-change:transform">Feedback</div>
<svg class="ic" style="left:997px;top:309.5px" width="13" height="13" viewBox="0 0 13 13" fill="none" stroke="#fff" stroke-width="1.1" stroke-linejoin="round"><path d="M5.6 3.2 L6.8 5.8 L9.6 6.1 L7.5 8 L8.1 10.8 L5.6 9.4 L3.1 10.8 L3.7 8 L1.6 6.1 L4.4 5.8 Z"/><path d="M10.8 1 V3.2 M9.7 2.1 H11.9" stroke-width="0.8"/></svg>
<div class="abs" style="left:10.5px;top:541px;width:55.6px;height:24.5px;background:#383eff;border-radius:12.5px 3.5px 12.5px 12.5px"></div>
<svg class="ic" style="left:16.5px;top:547px" width="13" height="13" viewBox="0 0 13 13"><circle cx="6.5" cy="6.5" r="5.5" fill="none" stroke="#fff" stroke-width="1.1"/><path d="M4.6 5.2 C4.6 3.9 5.5 3.3 6.5 3.3 C7.6 3.3 8.4 4 8.4 5 C8.4 6.2 6.6 6.3 6.6 7.7" fill="none" stroke="#fff" stroke-width="1.1"/><circle cx="6.6" cy="9.5" r="0.7" fill="#fff"/></svg>
<div class="abs tx" style="left:33.00px;top:547.00px;font-size:10.5px;font-weight:bold;color:#fff;transform:scaleX(0.9177);">Help</div>
</div>
</body></html>
